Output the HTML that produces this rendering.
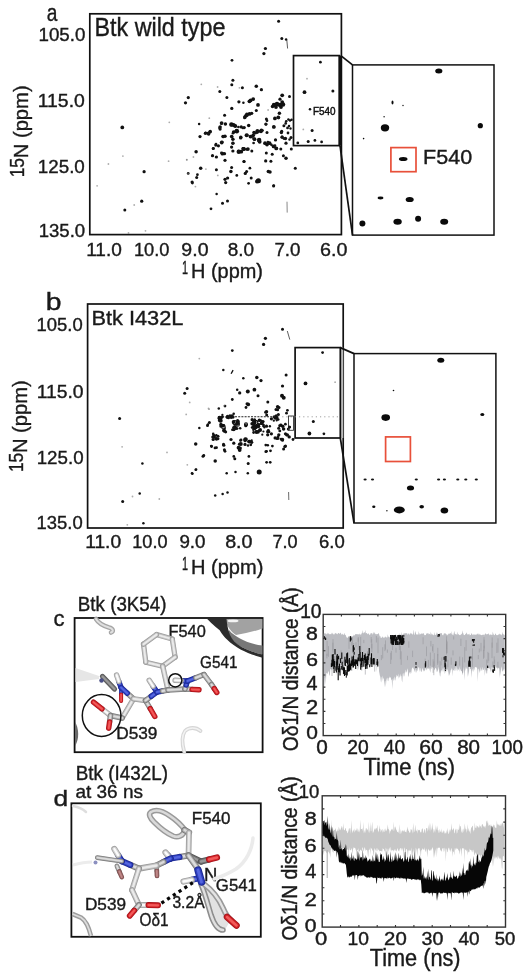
<!DOCTYPE html>
<html><head><meta charset="utf-8"><style>
html,body{margin:0;padding:0;background:#fff;}
body{width:532px;height:979px;overflow:hidden;}
svg{display:block;font-family:"Liberation Sans", sans-serif;will-change:transform;}
</style></head><body>
<svg width="532" height="979" viewBox="0 0 532 979">
<rect x="0" y="0" width="532" height="979" fill="#fff"/>
<text font-size="23.196" transform="translate(46.79,20.97) scale(0.8244,1)" fill="#1a1a1a" stroke="#1a1a1a" stroke-width="0.38">a</text>
<text font-size="18.375" transform="translate(38.49,41.02) scale(1.0201,1)" fill="#1a1a1a" stroke="#1a1a1a" stroke-width="0.38">105.0</text>
<text font-size="18.375" transform="translate(37.75,107.22) scale(1.0555,1)" fill="#1a1a1a" stroke="#1a1a1a" stroke-width="0.38">115.0</text>
<text font-size="18.657" transform="translate(37.79,172.51) scale(1.0069,1)" fill="#1a1a1a" stroke="#1a1a1a" stroke-width="0.38">125.0</text>
<text font-size="17.951" transform="translate(38.71,237.12) scale(1.0349,1)" fill="#1a1a1a" stroke="#1a1a1a" stroke-width="0.38">135.0</text>
<text font-size="25.308" transform="translate(94.48,36.05) scale(0.9217,1)" fill="#1a1a1a" stroke="#1a1a1a" stroke-width="0.38">Btk wild type</text>
<text font-size="18.657" transform="translate(86.17,256.01) scale(1.0216,1)" fill="#1a1a1a" stroke="#1a1a1a" stroke-width="0.38">11.0</text>
<text font-size="18.657" transform="translate(133.93,256.01) scale(0.9798,1)" fill="#1a1a1a" stroke="#1a1a1a" stroke-width="0.38">10.0</text>
<text font-size="18.657" transform="translate(181.37,256.01) scale(1.0473,1)" fill="#1a1a1a" stroke="#1a1a1a" stroke-width="0.38">9.0</text>
<text font-size="18.657" transform="translate(227.70,256.01) scale(1.0147,1)" fill="#1a1a1a" stroke="#1a1a1a" stroke-width="0.38">8.0</text>
<text font-size="18.657" transform="translate(274.41,256.01) scale(1.0060,1)" fill="#1a1a1a" stroke="#1a1a1a" stroke-width="0.38">7.0</text>
<text font-size="18.657" transform="translate(320.11,256.01) scale(1.0576,1)" fill="#1a1a1a" stroke="#1a1a1a" stroke-width="0.38">6.0</text>
<text font-size="19.200" transform="translate(181.98,274.30) scale(0.5660,1)" fill="#1a1a1a" stroke="#1a1a1a" stroke-width="0.38">1</text>
<text font-size="20.590" transform="translate(191.05,278.43) scale(0.9686,1)" fill="#1a1a1a" stroke="#1a1a1a" stroke-width="0.38">H (ppm)</text>
<g transform="rotate(-90)"><text font-size="19.785" transform="translate(-177.30,24.30) scale(0.8788,1)" fill="#1a1a1a" stroke="#1a1a1a" stroke-width="0.38">15</text></g>
<g transform="rotate(-90)"><text font-size="20.054" transform="translate(-158.27,28.34) scale(1.0074,1)" fill="#1a1a1a" stroke="#1a1a1a" stroke-width="0.38">N (ppm)</text></g>
<rect x="89.8" y="13.8" width="251.59999999999997" height="220.79999999999998" fill="none" stroke="#111" stroke-width="1.7"/>
<rect x="293.5" y="55.6" width="45.69999999999999" height="90.0" fill="none" stroke="#111" stroke-width="1.7"/>
<line x1="340.2" y1="55.6" x2="340.2" y2="145.6" stroke="#111" stroke-width="2.4" />
<rect x="352.5" y="64.9" width="141.5" height="170.2" fill="none" stroke="#111" stroke-width="1.5"/>
<line x1="340.8" y1="55.6" x2="352.5" y2="64.9" stroke="#111" stroke-width="1.7" />
<line x1="340.0" y1="145.6" x2="352.5" y2="235.1" stroke="#111" stroke-width="1.7" />
<text font-size="10.459" transform="translate(312.88,114.50) scale(0.9483,1)" fill="#111" stroke="#111" stroke-width="0.45">F540</text>
<text font-size="19.788" transform="translate(423.02,164.30) scale(1.0892,1)" fill="#1a1a1a" stroke="#1a1a1a" stroke-width="0.38">F540</text>
<rect x="390.9" y="147.6" width="25.1" height="24.1" fill="none" stroke="#e8503a" stroke-width="1.7"/>
<ellipse cx="281.8" cy="38.5" rx="1.5" ry="1.5" fill="#111"/>
<ellipse cx="286.1" cy="39.5" rx="1.25" ry="1.25" fill="#111"/>
<ellipse cx="278.6" cy="21.2" rx="1.5" ry="1.5" fill="#111"/>
<ellipse cx="265.4" cy="48.5" rx="1.62" ry="1.62" fill="#111"/>
<ellipse cx="263.9" cy="53.6" rx="1.62" ry="1.62" fill="#111"/>
<ellipse cx="232" cy="60.3" rx="1.38" ry="1.38" fill="#111"/>
<ellipse cx="232.9" cy="80.3" rx="1.5" ry="1.5" fill="#111"/>
<ellipse cx="231.8" cy="84.8" rx="1.5" ry="1.5" fill="#111"/>
<ellipse cx="201.3" cy="84.3" rx="0.9" ry="0.9" fill="#777" opacity="0.6"/>
<ellipse cx="217.6" cy="87" rx="0.9" ry="0.9" fill="#777" opacity="0.6"/>
<ellipse cx="219.8" cy="91.5" rx="1.5" ry="1.5" fill="#111"/>
<ellipse cx="242.4" cy="87.8" rx="1.5" ry="1.5" fill="#111"/>
<ellipse cx="239.4" cy="87.8" rx="0.9" ry="0.9" fill="#777" opacity="0.6"/>
<ellipse cx="256.3" cy="86.3" rx="1.75" ry="1.75" fill="#111"/>
<ellipse cx="261.4" cy="89.7" rx="1.62" ry="1.62" fill="#111"/>
<ellipse cx="188.3" cy="97.6" rx="1.62" ry="1.62" fill="#111"/>
<ellipse cx="185.5" cy="102.8" rx="1.62" ry="1.62" fill="#111"/>
<ellipse cx="226.9" cy="97.6" rx="1.5" ry="1.5" fill="#111"/>
<ellipse cx="238.9" cy="101.8" rx="1.62" ry="1.62" fill="#111"/>
<ellipse cx="243.4" cy="102.8" rx="1.25" ry="1.25" fill="#111"/>
<ellipse cx="249.4" cy="101.3" rx="1.88" ry="1.88" fill="#111"/>
<ellipse cx="253.2" cy="99.1" rx="1.88" ry="1.88" fill="#111"/>
<ellipse cx="250.6" cy="100.4" rx="1.88" ry="1.88" fill="#111"/>
<ellipse cx="282.2" cy="95.3" rx="1.88" ry="1.88" fill="#111"/>
<ellipse cx="289.5" cy="96.4" rx="1.5" ry="1.5" fill="#111"/>
<ellipse cx="280" cy="99.2" rx="1.62" ry="1.62" fill="#111"/>
<ellipse cx="282.2" cy="102.1" rx="1.88" ry="1.88" fill="#111"/>
<ellipse cx="274" cy="105" rx="2.25" ry="2.25" fill="#111"/>
<ellipse cx="277" cy="104" rx="2.25" ry="2.25" fill="#111"/>
<ellipse cx="280" cy="105" rx="2.25" ry="2.25" fill="#111"/>
<ellipse cx="283" cy="104.5" rx="2.25" ry="2.25" fill="#111"/>
<ellipse cx="276" cy="107" rx="1.88" ry="1.88" fill="#111"/>
<ellipse cx="281" cy="107" rx="1.88" ry="1.88" fill="#111"/>
<ellipse cx="272.5" cy="106.5" rx="1.75" ry="1.75" fill="#111"/>
<ellipse cx="258" cy="104.9" rx="1.88" ry="1.88" fill="#111"/>
<ellipse cx="231.8" cy="108.4" rx="1.62" ry="1.62" fill="#111"/>
<ellipse cx="256.3" cy="110.5" rx="1.5" ry="1.5" fill="#111"/>
<ellipse cx="268.1" cy="110" rx="0.9" ry="0.9" fill="#777" opacity="0.6"/>
<ellipse cx="224.6" cy="115.3" rx="1.5" ry="1.5" fill="#111"/>
<ellipse cx="246.9" cy="114.4" rx="1.88" ry="1.88" fill="#111"/>
<ellipse cx="244.9" cy="117.1" rx="1.88" ry="1.88" fill="#111"/>
<ellipse cx="251.7" cy="113.3" rx="1.62" ry="1.62" fill="#111"/>
<ellipse cx="249.5" cy="113.9" rx="1.88" ry="1.88" fill="#111"/>
<ellipse cx="246.1" cy="115.6" rx="1.88" ry="1.88" fill="#111"/>
<ellipse cx="279.4" cy="113.3" rx="1.75" ry="1.75" fill="#111"/>
<ellipse cx="274.9" cy="118.4" rx="1.88" ry="1.88" fill="#111"/>
<ellipse cx="278.3" cy="117.3" rx="1.88" ry="1.88" fill="#111"/>
<ellipse cx="266.4" cy="119" rx="1.5" ry="1.5" fill="#111"/>
<ellipse cx="265.9" cy="124.1" rx="1.62" ry="1.62" fill="#111"/>
<ellipse cx="288.4" cy="119.5" rx="1.25" ry="1.25" fill="#111"/>
<ellipse cx="286.2" cy="121.2" rx="1.25" ry="1.25" fill="#111"/>
<ellipse cx="209.3" cy="118.2" rx="0.9" ry="0.9" fill="#777" opacity="0.6"/>
<ellipse cx="199.1" cy="123.9" rx="1.25" ry="1.25" fill="#111"/>
<ellipse cx="221.6" cy="123.1" rx="1.88" ry="1.88" fill="#111"/>
<ellipse cx="225.4" cy="123.9" rx="1.75" ry="1.75" fill="#111"/>
<ellipse cx="220.1" cy="126.9" rx="1.75" ry="1.75" fill="#111"/>
<ellipse cx="220.1" cy="129.1" rx="1.62" ry="1.62" fill="#111"/>
<ellipse cx="231.4" cy="124.6" rx="2.25" ry="2.25" fill="#111"/>
<ellipse cx="235.2" cy="126.1" rx="2.0" ry="2.0" fill="#111"/>
<ellipse cx="233.6" cy="125" rx="2.0" ry="2.0" fill="#111"/>
<ellipse cx="241.2" cy="126.9" rx="1.62" ry="1.62" fill="#111"/>
<ellipse cx="244.2" cy="127.6" rx="1.62" ry="1.62" fill="#111"/>
<ellipse cx="248.7" cy="125.4" rx="1.75" ry="1.75" fill="#111"/>
<ellipse cx="273.8" cy="126.9" rx="1.88" ry="1.88" fill="#111"/>
<ellipse cx="283.9" cy="125.8" rx="1.5" ry="1.5" fill="#111"/>
<ellipse cx="288.4" cy="128" rx="0.9" ry="0.9" fill="#777" opacity="0.6"/>
<ellipse cx="210.3" cy="131.4" rx="1.62" ry="1.62" fill="#111"/>
<ellipse cx="205.8" cy="132.9" rx="1.5" ry="1.5" fill="#111"/>
<ellipse cx="233.6" cy="132.1" rx="1.75" ry="1.75" fill="#111"/>
<ellipse cx="236.7" cy="130.6" rx="1.88" ry="1.88" fill="#111"/>
<ellipse cx="257.4" cy="130.8" rx="1.88" ry="1.88" fill="#111"/>
<ellipse cx="261.4" cy="130.3" rx="1.88" ry="1.88" fill="#111"/>
<ellipse cx="254" cy="132.5" rx="1.75" ry="1.75" fill="#111"/>
<ellipse cx="281.7" cy="131.4" rx="1.62" ry="1.62" fill="#111"/>
<ellipse cx="209.9" cy="132" rx="1.75" ry="1.75" fill="#111"/>
<ellipse cx="208.6" cy="134" rx="1.75" ry="1.75" fill="#111"/>
<ellipse cx="205.3" cy="133.3" rx="1.5" ry="1.5" fill="#111"/>
<ellipse cx="200" cy="136.6" rx="1.62" ry="1.62" fill="#111"/>
<ellipse cx="223" cy="136.6" rx="1.75" ry="1.75" fill="#111"/>
<ellipse cx="225" cy="136.3" rx="1.75" ry="1.75" fill="#111"/>
<ellipse cx="231.6" cy="136.6" rx="1.75" ry="1.75" fill="#111"/>
<ellipse cx="232.9" cy="139.2" rx="1.75" ry="1.75" fill="#111"/>
<ellipse cx="236.8" cy="131.3" rx="2.25" ry="2.25" fill="#111"/>
<ellipse cx="240.8" cy="137.2" rx="1.75" ry="1.75" fill="#111"/>
<ellipse cx="221.7" cy="142.5" rx="1.88" ry="1.88" fill="#111"/>
<ellipse cx="232.9" cy="143.2" rx="1.75" ry="1.75" fill="#111"/>
<ellipse cx="215.8" cy="145.1" rx="1.62" ry="1.62" fill="#111"/>
<ellipse cx="218.4" cy="145.8" rx="1.62" ry="1.62" fill="#111"/>
<ellipse cx="213.2" cy="148.4" rx="1.5" ry="1.5" fill="#111"/>
<ellipse cx="231.6" cy="147.1" rx="1.62" ry="1.62" fill="#111"/>
<ellipse cx="196.1" cy="151.7" rx="1.75" ry="1.75" fill="#111"/>
<ellipse cx="222.4" cy="153.7" rx="1.88" ry="1.88" fill="#111"/>
<ellipse cx="224.5" cy="153.7" rx="1.62" ry="1.62" fill="#111"/>
<ellipse cx="232.9" cy="151" rx="1.62" ry="1.62" fill="#111"/>
<ellipse cx="238.8" cy="151.7" rx="2.25" ry="2.25" fill="#111"/>
<ellipse cx="243.4" cy="149.1" rx="2.0" ry="2.0" fill="#111"/>
<ellipse cx="193.4" cy="157" rx="0.9" ry="0.9" fill="#777" opacity="0.6"/>
<ellipse cx="212.5" cy="155.7" rx="1.62" ry="1.62" fill="#111"/>
<ellipse cx="216.4" cy="157" rx="1.62" ry="1.62" fill="#111"/>
<ellipse cx="225" cy="160.3" rx="1.62" ry="1.62" fill="#111"/>
<ellipse cx="186.8" cy="159.6" rx="0.9" ry="0.9" fill="#777" opacity="0.6"/>
<ellipse cx="200.7" cy="168.2" rx="1.75" ry="1.75" fill="#111"/>
<ellipse cx="205.9" cy="169.1" rx="0.9" ry="0.9" fill="#777" opacity="0.6"/>
<ellipse cx="216.4" cy="169.7" rx="1.5" ry="1.5" fill="#111"/>
<ellipse cx="231.6" cy="167.5" rx="1.5" ry="1.5" fill="#111"/>
<ellipse cx="230.9" cy="171.4" rx="1.75" ry="1.75" fill="#111"/>
<ellipse cx="188.2" cy="173.4" rx="1.38" ry="1.38" fill="#111"/>
<ellipse cx="197.4" cy="174.7" rx="1.38" ry="1.38" fill="#111"/>
<ellipse cx="196.7" cy="177.4" rx="1.5" ry="1.5" fill="#111"/>
<ellipse cx="217.8" cy="175.4" rx="0.9" ry="0.9" fill="#777" opacity="0.6"/>
<ellipse cx="236.8" cy="175.4" rx="1.38" ry="1.38" fill="#111"/>
<ellipse cx="225" cy="179.3" rx="1.62" ry="1.62" fill="#111"/>
<ellipse cx="227.6" cy="178" rx="1.62" ry="1.62" fill="#111"/>
<ellipse cx="225.7" cy="182.6" rx="1.62" ry="1.62" fill="#111"/>
<ellipse cx="192.1" cy="182" rx="1.62" ry="1.62" fill="#111"/>
<ellipse cx="195.4" cy="186.6" rx="0.9" ry="0.9" fill="#777" opacity="0.6"/>
<ellipse cx="244.1" cy="161.6" rx="1.5" ry="1.5" fill="#111"/>
<ellipse cx="246.6" cy="135.3" rx="2.0" ry="2.0" fill="#111"/>
<ellipse cx="250.5" cy="136.6" rx="1.88" ry="1.88" fill="#111"/>
<ellipse cx="253.2" cy="135.3" rx="1.88" ry="1.88" fill="#111"/>
<ellipse cx="254.5" cy="139.2" rx="1.88" ry="1.88" fill="#111"/>
<ellipse cx="257.1" cy="132" rx="1.88" ry="1.88" fill="#111"/>
<ellipse cx="261" cy="131.3" rx="1.88" ry="1.88" fill="#111"/>
<ellipse cx="259.1" cy="139.9" rx="2.25" ry="2.25" fill="#111"/>
<ellipse cx="259.7" cy="141.8" rx="1.88" ry="1.88" fill="#111"/>
<ellipse cx="267" cy="132.6" rx="1.5" ry="1.5" fill="#111"/>
<ellipse cx="240.7" cy="137.9" rx="1.62" ry="1.62" fill="#111"/>
<ellipse cx="265" cy="143.2" rx="1.88" ry="1.88" fill="#111"/>
<ellipse cx="267" cy="144.5" rx="1.88" ry="1.88" fill="#111"/>
<ellipse cx="269.6" cy="143.2" rx="1.88" ry="1.88" fill="#111"/>
<ellipse cx="275.5" cy="139.9" rx="1.62" ry="1.62" fill="#111"/>
<ellipse cx="273.6" cy="146.4" rx="1.88" ry="1.88" fill="#111"/>
<ellipse cx="276.2" cy="148.4" rx="1.88" ry="1.88" fill="#111"/>
<ellipse cx="281.4" cy="132.6" rx="1.62" ry="1.62" fill="#111"/>
<ellipse cx="282.1" cy="137.2" rx="1.75" ry="1.75" fill="#111"/>
<ellipse cx="285.4" cy="138.6" rx="1.75" ry="1.75" fill="#111"/>
<ellipse cx="286" cy="143.2" rx="1.62" ry="1.62" fill="#111"/>
<ellipse cx="280.8" cy="149.1" rx="1.5" ry="1.5" fill="#111"/>
<ellipse cx="291.3" cy="149.1" rx="1.5" ry="1.5" fill="#111"/>
<ellipse cx="243.9" cy="149.1" rx="2.0" ry="2.0" fill="#111"/>
<ellipse cx="247.9" cy="149.1" rx="1.88" ry="1.88" fill="#111"/>
<ellipse cx="241.3" cy="151.7" rx="1.88" ry="1.88" fill="#111"/>
<ellipse cx="251.8" cy="151" rx="1.5" ry="1.5" fill="#111"/>
<ellipse cx="266.3" cy="153" rx="1.5" ry="1.5" fill="#111"/>
<ellipse cx="272.2" cy="154.3" rx="1.5" ry="1.5" fill="#111"/>
<ellipse cx="283.4" cy="155.7" rx="1.5" ry="1.5" fill="#111"/>
<ellipse cx="286" cy="158.3" rx="1.75" ry="1.75" fill="#111"/>
<ellipse cx="243.9" cy="161.6" rx="1.5" ry="1.5" fill="#111"/>
<ellipse cx="265.7" cy="160.9" rx="1.62" ry="1.62" fill="#111"/>
<ellipse cx="270.9" cy="161.3" rx="1.5" ry="1.5" fill="#111"/>
<ellipse cx="249.9" cy="168.2" rx="1.38" ry="1.38" fill="#111"/>
<ellipse cx="295.3" cy="168.2" rx="1.5" ry="1.5" fill="#111"/>
<ellipse cx="245.3" cy="173.4" rx="1.62" ry="1.62" fill="#111"/>
<ellipse cx="246.6" cy="171.4" rx="1.5" ry="1.5" fill="#111"/>
<ellipse cx="268.3" cy="171.4" rx="1.75" ry="1.75" fill="#111"/>
<ellipse cx="270" cy="172.1" rx="1.75" ry="1.75" fill="#111"/>
<ellipse cx="251.2" cy="178" rx="1.5" ry="1.5" fill="#111"/>
<ellipse cx="258.4" cy="180.7" rx="2.5" ry="2.5" fill="#111"/>
<ellipse cx="257" cy="181.5" rx="2.0" ry="2.0" fill="#111"/>
<ellipse cx="248.6" cy="183.3" rx="1.38" ry="1.38" fill="#111"/>
<ellipse cx="273.6" cy="185.9" rx="1.5" ry="1.5" fill="#111"/>
<ellipse cx="192.4" cy="183.1" rx="1.38" ry="1.38" fill="#111"/>
<ellipse cx="216.6" cy="194" rx="1.25" ry="1.25" fill="#111"/>
<ellipse cx="222.5" cy="203.3" rx="1.5" ry="1.5" fill="#111"/>
<ellipse cx="227.5" cy="201.1" rx="1.5" ry="1.5" fill="#111"/>
<ellipse cx="211" cy="208.8" rx="1.38" ry="1.38" fill="#111"/>
<ellipse cx="273.7" cy="185.6" rx="1.38" ry="1.38" fill="#111"/>
<ellipse cx="257.5" cy="181.6" rx="1.5" ry="1.5" fill="#111"/>
<ellipse cx="122.3" cy="127.4" rx="1.88" ry="1.88" fill="#111"/>
<ellipse cx="169.3" cy="122.3" rx="0.9" ry="0.9" fill="#777" opacity="0.6"/>
<ellipse cx="122.9" cy="156.1" rx="0.9" ry="0.9" fill="#777" opacity="0.6"/>
<ellipse cx="108.4" cy="164" rx="0.9" ry="0.9" fill="#777" opacity="0.6"/>
<ellipse cx="168.6" cy="161.2" rx="0.9" ry="0.9" fill="#777" opacity="0.6"/>
<ellipse cx="144.1" cy="171.7" rx="1.62" ry="1.62" fill="#111"/>
<ellipse cx="97.1" cy="185.8" rx="0.9" ry="0.9" fill="#777" opacity="0.6"/>
<ellipse cx="141.7" cy="201.2" rx="1.62" ry="1.62" fill="#111"/>
<ellipse cx="134.2" cy="205" rx="0.9" ry="0.9" fill="#777" opacity="0.6"/>
<ellipse cx="124.8" cy="210.1" rx="1.5" ry="1.5" fill="#111"/>
<ellipse cx="128.5" cy="233" rx="0.9" ry="0.9" fill="#777" opacity="0.6"/>
<ellipse cx="145.5" cy="230.8" rx="0.9" ry="0.9" fill="#777" opacity="0.6"/>
<ellipse cx="188.1" cy="173.4" rx="0.9" ry="0.9" fill="#777" opacity="0.6"/>
<ellipse cx="186.8" cy="159.9" rx="0.9" ry="0.9" fill="#777" opacity="0.6"/>
<ellipse cx="290" cy="120.5" rx="1.25" ry="1.25" fill="#111"/>
<ellipse cx="291.6" cy="119.8" rx="1.19" ry="1.19" fill="#111"/>
<ellipse cx="289" cy="126" rx="1.25" ry="1.25" fill="#111"/>
<ellipse cx="290.5" cy="128.5" rx="1.19" ry="1.19" fill="#111"/>
<ellipse cx="288" cy="133" rx="1.38" ry="1.38" fill="#111"/>
<ellipse cx="291" cy="137.5" rx="1.5" ry="1.5" fill="#111"/>
<ellipse cx="289.5" cy="139.5" rx="1.25" ry="1.25" fill="#111"/>
<ellipse cx="320.4" cy="62.2" rx="1.38" ry="1.38" fill="#111"/>
<ellipse cx="307" cy="78.7" rx="0.9" ry="0.9" fill="#777" opacity="0.6"/>
<ellipse cx="304.5" cy="92.2" rx="1.88" ry="1.88" fill="#111"/>
<ellipse cx="332.9" cy="91" rx="1.5" ry="1.5" fill="#111"/>
<ellipse cx="310" cy="109.3" rx="1.25" ry="1.25" fill="#111"/>
<ellipse cx="303.3" cy="129.4" rx="0.9" ry="0.9" fill="#777" opacity="0.6"/>
<ellipse cx="312.1" cy="130.4" rx="1.5" ry="1.5" fill="#111"/>
<ellipse cx="297.8" cy="142.9" rx="1.38" ry="1.38" fill="#111"/>
<ellipse cx="308.2" cy="141.6" rx="1.5" ry="1.5" fill="#111"/>
<ellipse cx="314.9" cy="140.4" rx="1.38" ry="1.38" fill="#111"/>
<ellipse cx="321.6" cy="141.9" rx="1.38" ry="1.38" fill="#111"/>
<line x1="286.8" y1="40" x2="287.6" y2="48.5" stroke="#333" stroke-width="0.8" />
<line x1="287" y1="201.7" x2="287.2" y2="212.6" stroke="#555" stroke-width="0.7" />
<ellipse cx="438.8" cy="71" rx="3.6" ry="2.5" fill="#0a0a0a"/>
<ellipse cx="392.5" cy="102.5" rx="1.0" ry="2.0" fill="#0a0a0a"/>
<ellipse cx="403" cy="105.5" rx="0.7" ry="0.7" fill="#0a0a0a"/>
<ellipse cx="384.1" cy="116.7" rx="0.7" ry="0.7" fill="#0a0a0a"/>
<ellipse cx="385" cy="127.8" rx="4.2" ry="3.6" fill="#0a0a0a"/>
<ellipse cx="480.3" cy="125.7" rx="2.6" ry="2.6" fill="#0a0a0a"/>
<ellipse cx="363.6" cy="138.6" rx="0.8" ry="0.8" fill="#0a0a0a"/>
<ellipse cx="403.2" cy="159" rx="4.3" ry="2.0" fill="#0a0a0a"/>
<ellipse cx="380.5" cy="198" rx="3.0" ry="1.4" fill="#0a0a0a"/>
<ellipse cx="409.7" cy="199.5" rx="4.0" ry="2.6" fill="#0a0a0a"/>
<ellipse cx="362.4" cy="223.6" rx="3.0" ry="3.0" fill="#0a0a0a"/>
<ellipse cx="397.6" cy="221.8" rx="4.2" ry="3.0" fill="#0a0a0a"/>
<ellipse cx="418.1" cy="218.8" rx="3.0" ry="3.0" fill="#0a0a0a"/>
<ellipse cx="444.2" cy="221.8" rx="4.0" ry="3.0" fill="#0a0a0a"/>
<text font-size="22.993" transform="translate(45.87,310.47) scale(1.2274,1)" fill="#1a1a1a" stroke="#1a1a1a" stroke-width="0.38">b</text>
<text font-size="18.657" transform="translate(36.52,330.81) scale(0.9890,1)" fill="#1a1a1a" stroke="#1a1a1a" stroke-width="0.38">105.0</text>
<text font-size="18.657" transform="translate(36.65,398.41) scale(1.0372,1)" fill="#1a1a1a" stroke="#1a1a1a" stroke-width="0.38">115.0</text>
<text font-size="18.657" transform="translate(36.69,464.41) scale(1.0047,1)" fill="#1a1a1a" stroke="#1a1a1a" stroke-width="0.38">125.0</text>
<text font-size="18.516" transform="translate(36.52,528.91) scale(0.9965,1)" fill="#1a1a1a" stroke="#1a1a1a" stroke-width="0.38">135.0</text>
<text font-size="21.088" transform="translate(91.40,324.59) scale(1.0338,1)" fill="#1a1a1a" stroke="#1a1a1a" stroke-width="0.38">Btk I432L</text>
<text font-size="17.527" transform="translate(85.16,548.32) scale(1.0973,1)" fill="#1a1a1a" stroke="#1a1a1a" stroke-width="0.38">11.0</text>
<text font-size="17.527" transform="translate(132.24,548.32) scale(1.0337,1)" fill="#1a1a1a" stroke="#1a1a1a" stroke-width="0.38">10.0</text>
<text font-size="17.527" transform="translate(179.41,548.32) scale(1.0712,1)" fill="#1a1a1a" stroke="#1a1a1a" stroke-width="0.38">9.0</text>
<text font-size="17.527" transform="translate(225.16,548.32) scale(1.1237,1)" fill="#1a1a1a" stroke="#1a1a1a" stroke-width="0.38">8.0</text>
<text font-size="17.527" transform="translate(272.55,548.32) scale(1.0314,1)" fill="#1a1a1a" stroke="#1a1a1a" stroke-width="0.38">7.0</text>
<text font-size="17.527" transform="translate(318.97,548.32) scale(1.0557,1)" fill="#1a1a1a" stroke="#1a1a1a" stroke-width="0.38">6.0</text>
<text font-size="19.200" transform="translate(181.88,570.20) scale(0.5660,1)" fill="#1a1a1a" stroke="#1a1a1a" stroke-width="0.38">1</text>
<text font-size="20.590" transform="translate(190.95,574.33) scale(0.9742,1)" fill="#1a1a1a" stroke="#1a1a1a" stroke-width="0.38">H (ppm)</text>
<g transform="rotate(-90)"><text font-size="19.785" transform="translate(-472.10,22.80) scale(0.8788,1)" fill="#1a1a1a" stroke="#1a1a1a" stroke-width="0.38">15</text></g>
<g transform="rotate(-90)"><text font-size="20.054" transform="translate(-453.07,26.84) scale(1.0074,1)" fill="#1a1a1a" stroke="#1a1a1a" stroke-width="0.38">N (ppm)</text></g>
<rect x="87.6" y="304.0" width="255.6" height="224.0" fill="none" stroke="#111" stroke-width="1.7"/>
<rect x="340.3" y="347.6" width="3" height="90.4" fill="#bbb"/>
<rect x="295.1" y="347.6" width="45.19999999999999" height="90.39999999999998" fill="none" stroke="#111" stroke-width="1.7"/>
<rect x="354.0" y="353.6" width="141.89999999999998" height="169.39999999999998" fill="none" stroke="#111" stroke-width="1.5"/>
<line x1="340.3" y1="347.6" x2="354.0" y2="353.6" stroke="#111" stroke-width="1.7" />
<line x1="340.3" y1="438.0" x2="354.0" y2="523.0" stroke="#111" stroke-width="1.7" />
<rect x="385.6" y="436.9" width="24.8" height="24.6" fill="none" stroke="#e8503a" stroke-width="1.7"/>
<ellipse cx="282.5" cy="329.3" rx="1.5" ry="1.5" fill="#111"/>
<ellipse cx="265.4" cy="338.3" rx="1.62" ry="1.62" fill="#111"/>
<ellipse cx="263.6" cy="344.4" rx="1.62" ry="1.62" fill="#111"/>
<ellipse cx="232.3" cy="350.6" rx="1.38" ry="1.38" fill="#111"/>
<ellipse cx="199.3" cy="358.6" rx="0.9" ry="0.9" fill="#777" opacity="0.6"/>
<ellipse cx="223.3" cy="370.1" rx="1.25" ry="1.25" fill="#111"/>
<ellipse cx="243.3" cy="378.2" rx="1.25" ry="1.25" fill="#111"/>
<ellipse cx="256.8" cy="377.5" rx="1.75" ry="1.75" fill="#111"/>
<ellipse cx="261" cy="380.6" rx="1.62" ry="1.62" fill="#111"/>
<ellipse cx="187.1" cy="388.5" rx="1.5" ry="1.5" fill="#111"/>
<ellipse cx="184.7" cy="393.3" rx="1.5" ry="1.5" fill="#111"/>
<ellipse cx="237.2" cy="389.7" rx="1.25" ry="1.25" fill="#111"/>
<ellipse cx="239.7" cy="392.9" rx="1.62" ry="1.62" fill="#111"/>
<ellipse cx="247.8" cy="391.4" rx="2.0" ry="2.0" fill="#111"/>
<ellipse cx="254.4" cy="389.7" rx="1.88" ry="1.88" fill="#111"/>
<ellipse cx="258" cy="395.8" rx="1.5" ry="1.5" fill="#111"/>
<ellipse cx="232.3" cy="399.5" rx="1.38" ry="1.38" fill="#111"/>
<ellipse cx="248.2" cy="404.4" rx="1.88" ry="1.88" fill="#111"/>
<ellipse cx="267.8" cy="401.9" rx="1.5" ry="1.5" fill="#111"/>
<ellipse cx="225" cy="406.1" rx="1.38" ry="1.38" fill="#111"/>
<ellipse cx="282.5" cy="386" rx="1.62" ry="1.62" fill="#111"/>
<ellipse cx="282" cy="395.8" rx="2.0" ry="2.0" fill="#111"/>
<ellipse cx="283.7" cy="397.8" rx="2.0" ry="2.0" fill="#111"/>
<ellipse cx="286.1" cy="375" rx="1.5" ry="1.5" fill="#111"/>
<ellipse cx="277.6" cy="406.8" rx="1.75" ry="1.75" fill="#111"/>
<ellipse cx="266.6" cy="411.7" rx="1.62" ry="1.62" fill="#111"/>
<ellipse cx="209.1" cy="409.2" rx="0.9" ry="0.9" fill="#777" opacity="0.6"/>
<ellipse cx="220.1" cy="418.3" rx="2.25" ry="2.25" fill="#111"/>
<ellipse cx="233.6" cy="422" rx="1.88" ry="1.88" fill="#111"/>
<ellipse cx="237.2" cy="423.2" rx="1.88" ry="1.88" fill="#111"/>
<ellipse cx="234.8" cy="426.9" rx="1.88" ry="1.88" fill="#111"/>
<ellipse cx="222.6" cy="425.7" rx="1.88" ry="1.88" fill="#111"/>
<ellipse cx="223.8" cy="430.6" rx="1.75" ry="1.75" fill="#111"/>
<ellipse cx="254.4" cy="422" rx="2.25" ry="2.25" fill="#111"/>
<ellipse cx="255.6" cy="426.9" rx="2.25" ry="2.25" fill="#111"/>
<ellipse cx="258" cy="431.8" rx="1.88" ry="1.88" fill="#111"/>
<ellipse cx="261.7" cy="423.2" rx="1.88" ry="1.88" fill="#111"/>
<ellipse cx="245.8" cy="425.7" rx="1.62" ry="1.62" fill="#111"/>
<ellipse cx="207.9" cy="424.4" rx="1.25" ry="1.25" fill="#111"/>
<ellipse cx="199.3" cy="428.1" rx="1.25" ry="1.25" fill="#111"/>
<ellipse cx="267.8" cy="431.8" rx="1.75" ry="1.75" fill="#111"/>
<ellipse cx="275.1" cy="437.9" rx="1.62" ry="1.62" fill="#111"/>
<ellipse cx="214" cy="436.7" rx="1.88" ry="1.88" fill="#111"/>
<ellipse cx="216.5" cy="439.1" rx="1.75" ry="1.75" fill="#111"/>
<ellipse cx="240.9" cy="444" rx="1.88" ry="1.88" fill="#111"/>
<ellipse cx="245.8" cy="439.1" rx="1.88" ry="1.88" fill="#111"/>
<ellipse cx="249.5" cy="441.6" rx="1.88" ry="1.88" fill="#111"/>
<ellipse cx="195.7" cy="444" rx="1.75" ry="1.75" fill="#111"/>
<ellipse cx="223.8" cy="445.2" rx="1.62" ry="1.62" fill="#111"/>
<ellipse cx="284.9" cy="446.5" rx="1.62" ry="1.62" fill="#111"/>
<ellipse cx="282.5" cy="440.3" rx="1.5" ry="1.5" fill="#111"/>
<ellipse cx="267.8" cy="445.2" rx="1.25" ry="1.25" fill="#111"/>
<ellipse cx="211.6" cy="446.5" rx="1.38" ry="1.38" fill="#111"/>
<ellipse cx="216.5" cy="447.7" rx="1.38" ry="1.38" fill="#111"/>
<ellipse cx="225" cy="451.3" rx="1.38" ry="1.38" fill="#111"/>
<ellipse cx="238.5" cy="447.7" rx="1.88" ry="1.88" fill="#111"/>
<ellipse cx="239.7" cy="450.1" rx="1.88" ry="1.88" fill="#111"/>
<ellipse cx="203" cy="456.2" rx="1.5" ry="1.5" fill="#111"/>
<ellipse cx="215.2" cy="461.1" rx="1.75" ry="1.75" fill="#111"/>
<ellipse cx="234.8" cy="458.7" rx="1.5" ry="1.5" fill="#111"/>
<ellipse cx="248.2" cy="463.6" rx="1.5" ry="1.5" fill="#111"/>
<ellipse cx="266.6" cy="451.3" rx="1.38" ry="1.38" fill="#111"/>
<ellipse cx="266.6" cy="462.3" rx="1.38" ry="1.38" fill="#111"/>
<ellipse cx="270.2" cy="462.3" rx="1.38" ry="1.38" fill="#111"/>
<ellipse cx="195.7" cy="469.7" rx="1.25" ry="1.25" fill="#111"/>
<ellipse cx="192" cy="473.3" rx="1.25" ry="1.25" fill="#111"/>
<ellipse cx="226.7" cy="473.3" rx="1.25" ry="1.25" fill="#111"/>
<ellipse cx="235.5" cy="472.1" rx="1.25" ry="1.25" fill="#111"/>
<ellipse cx="259.2" cy="472.1" rx="2.5" ry="2.5" fill="#111"/>
<ellipse cx="247.8" cy="473.3" rx="1.25" ry="1.25" fill="#111"/>
<ellipse cx="215.2" cy="495.4" rx="1.25" ry="1.25" fill="#111"/>
<ellipse cx="222.6" cy="494.1" rx="1.25" ry="1.25" fill="#111"/>
<ellipse cx="227.5" cy="492.4" rx="1.25" ry="1.25" fill="#111"/>
<ellipse cx="247" cy="403.7" rx="1.5" ry="1.5" fill="#111"/>
<ellipse cx="277.6" cy="409.8" rx="1.5" ry="1.5" fill="#111"/>
<ellipse cx="246" cy="407.5" rx="1.38" ry="1.38" fill="#111"/>
<ellipse cx="276" cy="409.4" rx="1.5" ry="1.5" fill="#111"/>
<ellipse cx="279" cy="407.5" rx="1.5" ry="1.5" fill="#111"/>
<ellipse cx="287.4" cy="410.3" rx="1.38" ry="1.38" fill="#111"/>
<ellipse cx="286.5" cy="413.2" rx="1.38" ry="1.38" fill="#111"/>
<ellipse cx="265.8" cy="412.2" rx="1.62" ry="1.62" fill="#111"/>
<ellipse cx="266.7" cy="415" rx="1.5" ry="1.5" fill="#111"/>
<ellipse cx="219.7" cy="417.9" rx="2.25" ry="2.25" fill="#111"/>
<ellipse cx="220.7" cy="420.7" rx="2.0" ry="2.0" fill="#111"/>
<ellipse cx="230" cy="416" rx="1.75" ry="1.75" fill="#111"/>
<ellipse cx="232.9" cy="417" rx="1.75" ry="1.75" fill="#111"/>
<ellipse cx="235.7" cy="428.2" rx="1.75" ry="1.75" fill="#111"/>
<ellipse cx="224.4" cy="431" rx="1.75" ry="1.75" fill="#111"/>
<ellipse cx="258.3" cy="426.3" rx="2.0" ry="2.0" fill="#111"/>
<ellipse cx="254.5" cy="428.2" rx="2.0" ry="2.0" fill="#111"/>
<ellipse cx="256.4" cy="432" rx="1.88" ry="1.88" fill="#111"/>
<ellipse cx="260.2" cy="430" rx="1.88" ry="1.88" fill="#111"/>
<ellipse cx="263" cy="421.6" rx="1.62" ry="1.62" fill="#111"/>
<ellipse cx="271.4" cy="418.8" rx="1.62" ry="1.62" fill="#111"/>
<ellipse cx="274.2" cy="416.9" rx="1.62" ry="1.62" fill="#111"/>
<ellipse cx="267.7" cy="434.8" rx="1.62" ry="1.62" fill="#111"/>
<ellipse cx="271.4" cy="433.8" rx="1.62" ry="1.62" fill="#111"/>
<ellipse cx="277.1" cy="438.5" rx="1.62" ry="1.62" fill="#111"/>
<ellipse cx="281.8" cy="439.5" rx="1.62" ry="1.62" fill="#111"/>
<ellipse cx="282.7" cy="426.3" rx="1.75" ry="1.75" fill="#111"/>
<ellipse cx="283.6" cy="429.1" rx="1.75" ry="1.75" fill="#111"/>
<ellipse cx="288.3" cy="429.1" rx="1.5" ry="1.5" fill="#111"/>
<ellipse cx="285.5" cy="433.8" rx="1.62" ry="1.62" fill="#111"/>
<ellipse cx="287.4" cy="434.8" rx="1.62" ry="1.62" fill="#111"/>
<ellipse cx="293" cy="439.5" rx="1.38" ry="1.38" fill="#111"/>
<ellipse cx="209.4" cy="422.6" rx="1.5" ry="1.5" fill="#111"/>
<ellipse cx="207.5" cy="425.4" rx="1.5" ry="1.5" fill="#111"/>
<ellipse cx="214.1" cy="435.7" rx="1.62" ry="1.62" fill="#111"/>
<ellipse cx="216" cy="438.5" rx="1.62" ry="1.62" fill="#111"/>
<ellipse cx="213.2" cy="439.5" rx="1.62" ry="1.62" fill="#111"/>
<ellipse cx="231" cy="439.5" rx="1.62" ry="1.62" fill="#111"/>
<ellipse cx="233.8" cy="443.2" rx="1.62" ry="1.62" fill="#111"/>
<ellipse cx="239.5" cy="444.2" rx="1.62" ry="1.62" fill="#111"/>
<ellipse cx="245.1" cy="440.4" rx="1.75" ry="1.75" fill="#111"/>
<ellipse cx="248.9" cy="441.4" rx="1.75" ry="1.75" fill="#111"/>
<ellipse cx="251.7" cy="442.3" rx="1.62" ry="1.62" fill="#111"/>
<ellipse cx="240.4" cy="447.9" rx="1.5" ry="1.5" fill="#111"/>
<ellipse cx="239.5" cy="449.8" rx="1.5" ry="1.5" fill="#111"/>
<ellipse cx="223.5" cy="444.2" rx="1.5" ry="1.5" fill="#111"/>
<ellipse cx="224.4" cy="449.8" rx="1.5" ry="1.5" fill="#111"/>
<ellipse cx="211.3" cy="446.1" rx="1.38" ry="1.38" fill="#111"/>
<ellipse cx="215" cy="447.9" rx="1.38" ry="1.38" fill="#111"/>
<ellipse cx="265.8" cy="445.1" rx="1.38" ry="1.38" fill="#111"/>
<ellipse cx="272.4" cy="446.1" rx="1.38" ry="1.38" fill="#111"/>
<ellipse cx="265.8" cy="451.7" rx="1.38" ry="1.38" fill="#111"/>
<ellipse cx="270.5" cy="450.8" rx="1.38" ry="1.38" fill="#111"/>
<ellipse cx="285.5" cy="446.1" rx="1.5" ry="1.5" fill="#111"/>
<ellipse cx="283.6" cy="448.9" rx="1.5" ry="1.5" fill="#111"/>
<ellipse cx="203.8" cy="455.5" rx="1.38" ry="1.38" fill="#111"/>
<ellipse cx="233.8" cy="456.4" rx="1.38" ry="1.38" fill="#111"/>
<ellipse cx="248.9" cy="456.4" rx="1.38" ry="1.38" fill="#111"/>
<ellipse cx="218.8" cy="408.5" rx="1.25" ry="1.25" fill="#111"/>
<ellipse cx="208.5" cy="408.5" rx="0.9" ry="0.9" fill="#777" opacity="0.6"/>
<ellipse cx="224.4" cy="405.6" rx="0.9" ry="0.9" fill="#777" opacity="0.6"/>
<ellipse cx="189.7" cy="402.4" rx="0.9" ry="0.9" fill="#777" opacity="0.6"/>
<ellipse cx="186.2" cy="414.4" rx="0.9" ry="0.9" fill="#777" opacity="0.6"/>
<ellipse cx="119.6" cy="418.5" rx="1.5" ry="1.5" fill="#111"/>
<ellipse cx="122.1" cy="446.8" rx="0.9" ry="0.9" fill="#777" opacity="0.6"/>
<ellipse cx="167" cy="452.4" rx="0.9" ry="0.9" fill="#777" opacity="0.6"/>
<ellipse cx="142.4" cy="463.6" rx="1.25" ry="1.25" fill="#111"/>
<ellipse cx="187.3" cy="464.8" rx="0.9" ry="0.9" fill="#777" opacity="0.6"/>
<ellipse cx="196.1" cy="469.6" rx="1.25" ry="1.25" fill="#111"/>
<ellipse cx="192.4" cy="473.7" rx="1.25" ry="1.25" fill="#111"/>
<ellipse cx="139.7" cy="493.4" rx="1.25" ry="1.25" fill="#111"/>
<ellipse cx="132.5" cy="496.5" rx="0.9" ry="0.9" fill="#777" opacity="0.6"/>
<ellipse cx="122.7" cy="501.6" rx="1.5" ry="1.5" fill="#111"/>
<ellipse cx="159.3" cy="499" rx="0.9" ry="0.9" fill="#777" opacity="0.6"/>
<ellipse cx="127.3" cy="524.8" rx="0.9" ry="0.9" fill="#777" opacity="0.6"/>
<ellipse cx="143.4" cy="523.3" rx="1.25" ry="1.25" fill="#111"/>
<ellipse cx="322.6" cy="352.6" rx="1.38" ry="1.38" fill="#111"/>
<ellipse cx="305.5" cy="383.4" rx="1.88" ry="1.88" fill="#111"/>
<ellipse cx="335.1" cy="382.2" rx="0.9" ry="0.9" fill="#777" opacity="0.6"/>
<ellipse cx="313.3" cy="421.6" rx="1.5" ry="1.5" fill="#111"/>
<ellipse cx="309.4" cy="433.5" rx="1.88" ry="1.88" fill="#111"/>
<ellipse cx="323.9" cy="433.8" rx="1.38" ry="1.38" fill="#111"/>
<circle cx="234.8" cy="422.6" r="2.0" fill="none" stroke="#111" stroke-width="1.1"/>
<circle cx="237.6" cy="424.4" r="1.8" fill="none" stroke="#111" stroke-width="1.1"/>
<circle cx="223.5" cy="427.3" r="1.8" fill="none" stroke="#111" stroke-width="1.1"/>
<circle cx="255.5" cy="422.6" r="2.3" fill="none" stroke="#111" stroke-width="1.1"/>
<circle cx="246" cy="424.4" r="1.5" fill="none" stroke="#111" stroke-width="1.1"/>
<line x1="287.3" y1="331" x2="289.8" y2="339.6" stroke="#333" stroke-width="0.8" />
<line x1="233.1" y1="370.1" x2="231.1" y2="373.8" stroke="#111" stroke-width="1.3" />
<line x1="288.6" y1="492" x2="288.8" y2="500" stroke="#444" stroke-width="0.8" />
<line x1="219" y1="416.8" x2="278" y2="416.8" stroke="#222" stroke-width="1.1" stroke-dasharray="2 1.2"/>
<line x1="278" y1="416.8" x2="340" y2="416.8" stroke="#888" stroke-width="0.8" stroke-dasharray="1.2 3"/>
<rect x="288.5" y="416" width="5" height="14.3" fill="none" stroke="#333" stroke-width="0.9"/>
<ellipse cx="440.8" cy="360.2" rx="3.5" ry="2.5" fill="#0a0a0a"/>
<ellipse cx="393.5" cy="390.5" rx="0.8" ry="0.8" fill="#0a0a0a"/>
<ellipse cx="385.7" cy="417.6" rx="4.3" ry="3.3" fill="#0a0a0a"/>
<ellipse cx="482.3" cy="414.6" rx="2.0" ry="1.5" fill="#0a0a0a"/>
<ellipse cx="410.5" cy="488.1" rx="3.6" ry="2.5" fill="#0a0a0a"/>
<ellipse cx="373.8" cy="506.7" rx="1.6" ry="1.3" fill="#0a0a0a"/>
<ellipse cx="386.9" cy="510.8" rx="0.7" ry="0.7" fill="#0a0a0a"/>
<ellipse cx="399.3" cy="509.9" rx="5.5" ry="3.5" fill="#0a0a0a"/>
<ellipse cx="421.7" cy="506.7" rx="2.3" ry="1.8" fill="#0a0a0a"/>
<ellipse cx="444.4" cy="510.5" rx="3.8" ry="3.0" fill="#0a0a0a"/>
<ellipse cx="365.1" cy="479.5" rx="1.6" ry="1.0" fill="#111"/>
<ellipse cx="372.5" cy="479.5" rx="1.6" ry="1.0" fill="#111"/>
<ellipse cx="416.3" cy="479.5" rx="1.6" ry="1.0" fill="#111"/>
<ellipse cx="438.6" cy="479.5" rx="1.6" ry="1.0" fill="#111"/>
<ellipse cx="444.4" cy="479.5" rx="1.6" ry="1.0" fill="#111"/>
<ellipse cx="457.8" cy="479.5" rx="1.6" ry="1.0" fill="#111"/>
<ellipse cx="465.8" cy="479.5" rx="1.6" ry="1.0" fill="#111"/>
<ellipse cx="476.3" cy="479.5" rx="1.6" ry="1.0" fill="#111"/>
<text font-size="22.648" transform="translate(53.46,626.27) scale(0.9755,1)" fill="#1a1a1a" stroke="#1a1a1a" stroke-width="0.38">c</text>
<text font-size="19.782" transform="translate(77.85,611.20) scale(0.9486,1)" fill="#1a1a1a" stroke="#1a1a1a" stroke-width="0.38">Btk (3K54)</text>
<rect x="74.6" y="618.0" width="188.00000000000003" height="134.20000000000005" fill="none" stroke="#111" stroke-width="1.8"/>
<text font-size="16.678" transform="translate(168.45,637.13) scale(0.9810,1)" fill="#1a1a1a" stroke="#1a1a1a" stroke-width="0.38">F540</text>
<text font-size="17.385" transform="translate(200.04,668.43) scale(0.8797,1)" fill="#1a1a1a" stroke="#1a1a1a" stroke-width="0.38">G541</text>
<text font-size="15.830" transform="translate(116.17,739.34) scale(1.0917,1)" fill="#1a1a1a" stroke="#1a1a1a" stroke-width="0.38">D539</text>
<rect x="323.2" y="614.4" width="182.5" height="121.20000000000005" fill="none" stroke="#333" stroke-width="1.4"/>
<text font-size="19.505" transform="translate(300.16,618.10) scale(0.9868,1)" fill="#1a1a1a" stroke="#1a1a1a" stroke-width="0.42">10</text>
<text font-size="19.223" transform="translate(306.10,640.36) scale(1.1069,1)" fill="#1a1a1a" stroke="#1a1a1a" stroke-width="0.42">8</text>
<text font-size="19.223" transform="translate(305.92,665.51) scale(1.1248,1)" fill="#1a1a1a" stroke="#1a1a1a" stroke-width="0.42">6</text>
<text font-size="19.782" transform="translate(306.55,690.00) scale(1.0010,1)" fill="#1a1a1a" stroke="#1a1a1a" stroke-width="0.42">4</text>
<text font-size="19.498" transform="translate(305.90,714.40) scale(1.1272,1)" fill="#1a1a1a" stroke="#1a1a1a" stroke-width="0.42">2</text>
<text font-size="19.223" transform="translate(306.16,739.11) scale(1.0895,1)" fill="#1a1a1a" stroke="#1a1a1a" stroke-width="0.42">0</text>
<text font-size="19.505" transform="translate(316.37,754.40) scale(1.0629,1)" fill="#1a1a1a" stroke="#1a1a1a" stroke-width="0.42">0</text>
<text font-size="19.505" transform="translate(347.24,754.40) scale(0.9878,1)" fill="#1a1a1a" stroke="#1a1a1a" stroke-width="0.42">20</text>
<text font-size="19.505" transform="translate(383.77,754.40) scale(0.9863,1)" fill="#1a1a1a" stroke="#1a1a1a" stroke-width="0.42">40</text>
<text font-size="19.505" transform="translate(419.34,754.40) scale(1.0830,1)" fill="#1a1a1a" stroke="#1a1a1a" stroke-width="0.42">60</text>
<text font-size="19.505" transform="translate(457.13,754.40) scale(1.0552,1)" fill="#1a1a1a" stroke="#1a1a1a" stroke-width="0.42">80</text>
<text font-size="19.505" transform="translate(491.59,754.40) scale(0.9627,1)" fill="#1a1a1a" stroke="#1a1a1a" stroke-width="0.42">100</text>
<text font-size="24.291" transform="translate(363.51,774.50) scale(0.9017,1)" fill="#1a1a1a" stroke="#1a1a1a" stroke-width="0.42">Time (ns)</text>
<g transform="rotate(-90)"><text font-size="21.382" transform="translate(-751.32,297.50) scale(0.9022,1)" fill="#1a1a1a" stroke="#1a1a1a" stroke-width="0.42">Oδ1/N distance (Å)</text></g>
<text font-size="22.993" transform="translate(53.58,805.87) scale(1.1501,1)" fill="#1a1a1a" stroke="#1a1a1a" stroke-width="0.38">d</text>
<text font-size="19.927" transform="translate(75.64,780.10) scale(0.9476,1)" fill="#1a1a1a" stroke="#1a1a1a" stroke-width="0.38">Btk (I432L)</text>
<text font-size="18.925" transform="translate(75.39,797.90) scale(1.0052,1)" fill="#1a1a1a" stroke="#1a1a1a" stroke-width="0.38">at 36 ns</text>
<rect x="71.4" y="803.3" width="189.4" height="133.5" fill="none" stroke="#111" stroke-width="1.8"/>
<text font-size="15.830" transform="translate(191.80,823.64) scale(1.0716,1)" fill="#1a1a1a" stroke="#1a1a1a" stroke-width="0.38">F540</text>
<text font-size="17.891" transform="translate(203.88,881.20) scale(1.0327,1)" fill="#1a1a1a" stroke="#1a1a1a" stroke-width="0.38">N</text>
<text font-size="15.972" transform="translate(215.86,891.34) scale(1.0508,1)" fill="#1a1a1a" stroke="#1a1a1a" stroke-width="0.38">G541</text>
<text font-size="16.431" transform="translate(172.41,908.04) scale(0.9533,1)" fill="#1a1a1a" stroke="#1a1a1a" stroke-width="0.38">3.2Å</text>
<text font-size="16.678" transform="translate(84.88,910.33) scale(1.0335,1)" fill="#1a1a1a" stroke="#1a1a1a" stroke-width="0.38">D539</text>
<text font-size="17.823" transform="translate(139.57,926.12) scale(0.8627,1)" fill="#1a1a1a" stroke="#1a1a1a" stroke-width="0.38">Oδ1</text>
<rect x="322.2" y="795.8" width="183.3" height="131.30000000000007" fill="none" stroke="#333" stroke-width="1.4"/>
<text font-size="19.081" transform="translate(298.72,798.21) scale(0.9667,1)" fill="#1a1a1a" stroke="#1a1a1a" stroke-width="0.42">10</text>
<text font-size="18.940" transform="translate(304.69,825.11) scale(1.1346,1)" fill="#1a1a1a" stroke="#1a1a1a" stroke-width="0.42">8</text>
<text font-size="18.940" transform="translate(304.51,851.51) scale(1.1530,1)" fill="#1a1a1a" stroke="#1a1a1a" stroke-width="0.42">6</text>
<text font-size="19.491" transform="translate(305.15,878.40) scale(1.0261,1)" fill="#1a1a1a" stroke="#1a1a1a" stroke-width="0.42">4</text>
<text font-size="19.211" transform="translate(304.49,905.50) scale(1.1554,1)" fill="#1a1a1a" stroke="#1a1a1a" stroke-width="0.42">2</text>
<text font-size="18.940" transform="translate(304.75,932.41) scale(1.1168,1)" fill="#1a1a1a" stroke="#1a1a1a" stroke-width="0.42">0</text>
<text font-size="18.092" transform="translate(314.92,944.82) scale(1.2154,1)" fill="#1a1a1a" stroke="#1a1a1a" stroke-width="0.42">0</text>
<text font-size="18.092" transform="translate(347.56,944.82) scale(1.0639,1)" fill="#1a1a1a" stroke="#1a1a1a" stroke-width="0.42">10</text>
<text font-size="18.092" transform="translate(384.08,944.82) scale(1.1244,1)" fill="#1a1a1a" stroke="#1a1a1a" stroke-width="0.42">20</text>
<text font-size="18.092" transform="translate(421.56,944.82) scale(1.0841,1)" fill="#1a1a1a" stroke="#1a1a1a" stroke-width="0.42">30</text>
<text font-size="18.092" transform="translate(458.57,944.82) scale(1.0476,1)" fill="#1a1a1a" stroke="#1a1a1a" stroke-width="0.42">40</text>
<text font-size="18.092" transform="translate(494.76,944.82) scale(1.0225,1)" fill="#1a1a1a" stroke="#1a1a1a" stroke-width="0.42">50</text>
<text font-size="24.436" transform="translate(369.71,966.40) scale(0.8893,1)" fill="#1a1a1a" stroke="#1a1a1a" stroke-width="0.42">Time (ns)</text>
<g transform="rotate(-90)"><text font-size="21.382" transform="translate(-940.72,297.20) scale(0.9050,1)" fill="#1a1a1a" stroke="#1a1a1a" stroke-width="0.42">Oδ1/N distance (Å)</text></g>
<path d="M96,619 C99,624 104,626 109,627.5 C113,628.5 114,631 111,632.5" fill="none" stroke="#a6a6a6" stroke-width="4.6" stroke-linecap="round"/>
<path d="M96,619 C99,624 104,626 109,627.5 C113,628.5 114,631 111,632.5" fill="none" stroke="#e0e0e0" stroke-width="2" stroke-linecap="round"/>
<path d="M75.5,668 L99,676 L99,679 L75.5,682 Z" fill="#e6e6e6"/>
<path d="M75,722 C79,728 79.5,739 75,746 Z" fill="#6a6a6a"/>
<path d="M184.3,752 C182,744 181.5,736 185,731 C189,727 196,727 200.5,731" fill="none" stroke="#d6d6d6" stroke-width="3.8" stroke-linecap="round"/>
<path d="M184.3,752 C182,744 181.5,736 185,731 C189,727 196,727 200.5,731" fill="none" stroke="#f2f2f2" stroke-width="1.5" stroke-linecap="round"/>
<path d="M224,619 L262.5,619 L262.5,628.5 C254,631.5 245,633.5 236,635 C231,632 227,626 224,619 Z" fill="#a2a2a2"/>
<path d="M228,632 C231,639.5 236,643.5 241.5,647 C247,650 254,652.5 262.5,654.5 L262.5,645.5 C254,644.5 246,642 240,638.5 C236,636 232,634 229,630 Z" fill="#787878"/>
<path d="M207.2,619 C213,625 217,628 219.5,630 C222,634 224.5,637.5 227,639.5 C231,643.5 236,647 241,649.8 C247,652.8 254,655.5 262.5,657.8 L262.5,654.5 C254,652.5 247,650 241.5,647 C236,643.5 232,639.5 230,635 C228,630 227,624 226.5,619 Z" fill="#2c2c2c"/>
<ellipse cx="233" cy="620.9" rx="5.5" ry="1.4" fill="#f4f4f4"/>
<line x1="156.5" y1="634.6" x2="172.3" y2="639.1" stroke="#9c9c9c" stroke-width="5.2" stroke-linecap="round"/>
<line x1="156.5" y1="634.6" x2="172.3" y2="639.1" stroke="#c2c2c2" stroke-width="3.74" stroke-linecap="round"/>
<line x1="156.5" y1="634.6" x2="172.3" y2="639.1" stroke="#ebebeb" stroke-width="1.98" stroke-linecap="round"/>
<line x1="172.3" y1="639.1" x2="175.1" y2="657.1" stroke="#9c9c9c" stroke-width="5.2" stroke-linecap="round"/>
<line x1="172.3" y1="639.1" x2="175.1" y2="657.1" stroke="#c2c2c2" stroke-width="3.74" stroke-linecap="round"/>
<line x1="172.3" y1="639.1" x2="175.1" y2="657.1" stroke="#ebebeb" stroke-width="1.98" stroke-linecap="round"/>
<line x1="175.1" y1="657.1" x2="162.7" y2="666.2" stroke="#9c9c9c" stroke-width="5.2" stroke-linecap="round"/>
<line x1="175.1" y1="657.1" x2="162.7" y2="666.2" stroke="#c2c2c2" stroke-width="3.74" stroke-linecap="round"/>
<line x1="175.1" y1="657.1" x2="162.7" y2="666.2" stroke="#ebebeb" stroke-width="1.98" stroke-linecap="round"/>
<line x1="162.7" y1="666.2" x2="145.8" y2="662.2" stroke="#9c9c9c" stroke-width="5.2" stroke-linecap="round"/>
<line x1="162.7" y1="666.2" x2="145.8" y2="662.2" stroke="#c2c2c2" stroke-width="3.74" stroke-linecap="round"/>
<line x1="162.7" y1="666.2" x2="145.8" y2="662.2" stroke="#ebebeb" stroke-width="1.98" stroke-linecap="round"/>
<line x1="145.8" y1="662.2" x2="143.5" y2="644.2" stroke="#9c9c9c" stroke-width="5.2" stroke-linecap="round"/>
<line x1="145.8" y1="662.2" x2="143.5" y2="644.2" stroke="#c2c2c2" stroke-width="3.74" stroke-linecap="round"/>
<line x1="145.8" y1="662.2" x2="143.5" y2="644.2" stroke="#ebebeb" stroke-width="1.98" stroke-linecap="round"/>
<line x1="143.5" y1="644.2" x2="156.5" y2="634.6" stroke="#9c9c9c" stroke-width="5.2" stroke-linecap="round"/>
<line x1="143.5" y1="644.2" x2="156.5" y2="634.6" stroke="#c2c2c2" stroke-width="3.74" stroke-linecap="round"/>
<line x1="143.5" y1="644.2" x2="156.5" y2="634.6" stroke="#ebebeb" stroke-width="1.98" stroke-linecap="round"/>
<line x1="102.5" y1="676.5" x2="114.5" y2="689.0" stroke="#555555" stroke-width="5.2" stroke-linecap="round"/>
<line x1="102.5" y1="676.5" x2="114.5" y2="689.0" stroke="#707070" stroke-width="3.74" stroke-linecap="round"/>
<line x1="102.5" y1="676.5" x2="114.5" y2="689.0" stroke="#9a9a9a" stroke-width="1.98" stroke-linecap="round"/>
<circle cx="101.5" cy="680.5" r="2.2" fill="#4a4f86"/>
<line x1="121.1" y1="687.6" x2="121.1" y2="694.4" stroke="#1c2995" stroke-width="4.0" stroke-linecap="round"/>
<line x1="121.1" y1="687.6" x2="121.1" y2="694.4" stroke="#2f40bf" stroke-width="2.88" stroke-linecap="round"/>
<line x1="121.1" y1="687.6" x2="121.1" y2="694.4" stroke="#5566e0" stroke-width="1.52" stroke-linecap="round"/>
<line x1="121.1" y1="694.4" x2="121.1" y2="701.1" stroke="#a8121a" stroke-width="4.0" stroke-linecap="round"/>
<line x1="121.1" y1="694.4" x2="121.1" y2="701.1" stroke="#d42428" stroke-width="2.88" stroke-linecap="round"/>
<line x1="121.1" y1="694.4" x2="121.1" y2="701.1" stroke="#f25a5a" stroke-width="1.52" stroke-linecap="round"/>
<line x1="121.1" y1="687.6" x2="118.8" y2="681.4" stroke="#1c2995" stroke-width="5.4" stroke-linecap="round"/>
<line x1="121.1" y1="687.6" x2="118.8" y2="681.4" stroke="#2f40bf" stroke-width="3.89" stroke-linecap="round"/>
<line x1="121.1" y1="687.6" x2="118.8" y2="681.4" stroke="#5566e0" stroke-width="2.05" stroke-linecap="round"/>
<line x1="118.8" y1="681.4" x2="116.6" y2="675.1" stroke="#a0a0a0" stroke-width="5.4" stroke-linecap="round"/>
<line x1="118.8" y1="681.4" x2="116.6" y2="675.1" stroke="#d0d0d0" stroke-width="3.89" stroke-linecap="round"/>
<line x1="118.8" y1="681.4" x2="116.6" y2="675.1" stroke="#fbfbfb" stroke-width="2.05" stroke-linecap="round"/>
<line x1="133.5" y1="698.8" x2="127.3" y2="693.2" stroke="#787878" stroke-width="5.4" stroke-linecap="round"/>
<line x1="133.5" y1="698.8" x2="127.3" y2="693.2" stroke="#a9a9a9" stroke-width="3.89" stroke-linecap="round"/>
<line x1="133.5" y1="698.8" x2="127.3" y2="693.2" stroke="#dcdcdc" stroke-width="2.05" stroke-linecap="round"/>
<line x1="127.3" y1="693.2" x2="121.1" y2="687.6" stroke="#1c2995" stroke-width="5.4" stroke-linecap="round"/>
<line x1="127.3" y1="693.2" x2="121.1" y2="687.6" stroke="#2f40bf" stroke-width="3.89" stroke-linecap="round"/>
<line x1="127.3" y1="693.2" x2="121.1" y2="687.6" stroke="#5566e0" stroke-width="2.05" stroke-linecap="round"/>
<line x1="122.2" y1="718.0" x2="133.5" y2="698.8" stroke="#9c9c9c" stroke-width="5.4" stroke-linecap="round"/>
<line x1="122.2" y1="718.0" x2="133.5" y2="698.8" stroke="#c2c2c2" stroke-width="3.89" stroke-linecap="round"/>
<line x1="122.2" y1="718.0" x2="133.5" y2="698.8" stroke="#ebebeb" stroke-width="2.05" stroke-linecap="round"/>
<line x1="110.5" y1="715.5" x2="122.2" y2="718.0" stroke="#787878" stroke-width="5.4" stroke-linecap="round"/>
<line x1="110.5" y1="715.5" x2="122.2" y2="718.0" stroke="#a9a9a9" stroke-width="3.89" stroke-linecap="round"/>
<line x1="110.5" y1="715.5" x2="122.2" y2="718.0" stroke="#dcdcdc" stroke-width="2.05" stroke-linecap="round"/>
<line x1="110.5" y1="715.5" x2="102.0" y2="708.9" stroke="#a0a0a0" stroke-width="5.4" stroke-linecap="round"/>
<line x1="110.5" y1="715.5" x2="102.0" y2="708.9" stroke="#d0d0d0" stroke-width="3.89" stroke-linecap="round"/>
<line x1="110.5" y1="715.5" x2="102.0" y2="708.9" stroke="#fbfbfb" stroke-width="2.05" stroke-linecap="round"/>
<line x1="102.0" y1="708.9" x2="93.5" y2="702.2" stroke="#a8121a" stroke-width="5.4" stroke-linecap="round"/>
<line x1="102.0" y1="708.9" x2="93.5" y2="702.2" stroke="#d42428" stroke-width="3.89" stroke-linecap="round"/>
<line x1="102.0" y1="708.9" x2="93.5" y2="702.2" stroke="#f25a5a" stroke-width="2.05" stroke-linecap="round"/>
<line x1="110.5" y1="715.5" x2="109.6" y2="721.9" stroke="#787878" stroke-width="5.4" stroke-linecap="round"/>
<line x1="110.5" y1="715.5" x2="109.6" y2="721.9" stroke="#a9a9a9" stroke-width="3.89" stroke-linecap="round"/>
<line x1="110.5" y1="715.5" x2="109.6" y2="721.9" stroke="#dcdcdc" stroke-width="2.05" stroke-linecap="round"/>
<line x1="109.6" y1="721.9" x2="108.7" y2="728.2" stroke="#a8121a" stroke-width="5.4" stroke-linecap="round"/>
<line x1="109.6" y1="721.9" x2="108.7" y2="728.2" stroke="#d42428" stroke-width="3.89" stroke-linecap="round"/>
<line x1="109.6" y1="721.9" x2="108.7" y2="728.2" stroke="#f25a5a" stroke-width="2.05" stroke-linecap="round"/>
<line x1="133.5" y1="698.8" x2="145.5" y2="700.5" stroke="#9c9c9c" stroke-width="5.4" stroke-linecap="round"/>
<line x1="133.5" y1="698.8" x2="145.5" y2="700.5" stroke="#c2c2c2" stroke-width="3.89" stroke-linecap="round"/>
<line x1="133.5" y1="698.8" x2="145.5" y2="700.5" stroke="#ebebeb" stroke-width="2.05" stroke-linecap="round"/>
<line x1="145.5" y1="700.5" x2="150.2" y2="708.5" stroke="#787878" stroke-width="5.4" stroke-linecap="round"/>
<line x1="145.5" y1="700.5" x2="150.2" y2="708.5" stroke="#a9a9a9" stroke-width="3.89" stroke-linecap="round"/>
<line x1="145.5" y1="700.5" x2="150.2" y2="708.5" stroke="#dcdcdc" stroke-width="2.05" stroke-linecap="round"/>
<line x1="150.2" y1="708.5" x2="154.8" y2="716.5" stroke="#a8121a" stroke-width="5.4" stroke-linecap="round"/>
<line x1="150.2" y1="708.5" x2="154.8" y2="716.5" stroke="#d42428" stroke-width="3.89" stroke-linecap="round"/>
<line x1="150.2" y1="708.5" x2="154.8" y2="716.5" stroke="#f25a5a" stroke-width="2.05" stroke-linecap="round"/>
<line x1="145.5" y1="700.5" x2="151.2" y2="696.3" stroke="#787878" stroke-width="5.4" stroke-linecap="round"/>
<line x1="145.5" y1="700.5" x2="151.2" y2="696.3" stroke="#a9a9a9" stroke-width="3.89" stroke-linecap="round"/>
<line x1="145.5" y1="700.5" x2="151.2" y2="696.3" stroke="#dcdcdc" stroke-width="2.05" stroke-linecap="round"/>
<line x1="151.2" y1="696.3" x2="157.0" y2="692.1" stroke="#1c2995" stroke-width="5.4" stroke-linecap="round"/>
<line x1="151.2" y1="696.3" x2="157.0" y2="692.1" stroke="#2f40bf" stroke-width="3.89" stroke-linecap="round"/>
<line x1="151.2" y1="696.3" x2="157.0" y2="692.1" stroke="#5566e0" stroke-width="2.05" stroke-linecap="round"/>
<line x1="162.7" y1="666.2" x2="168.0" y2="690.0" stroke="#9c9c9c" stroke-width="5.4" stroke-linecap="round"/>
<line x1="162.7" y1="666.2" x2="168.0" y2="690.0" stroke="#c2c2c2" stroke-width="3.89" stroke-linecap="round"/>
<line x1="162.7" y1="666.2" x2="168.0" y2="690.0" stroke="#ebebeb" stroke-width="2.05" stroke-linecap="round"/>
<line x1="157.0" y1="692.1" x2="153.1" y2="686.2" stroke="#1c2995" stroke-width="5.4" stroke-linecap="round"/>
<line x1="157.0" y1="692.1" x2="153.1" y2="686.2" stroke="#2f40bf" stroke-width="3.89" stroke-linecap="round"/>
<line x1="157.0" y1="692.1" x2="153.1" y2="686.2" stroke="#5566e0" stroke-width="2.05" stroke-linecap="round"/>
<line x1="153.1" y1="686.2" x2="149.2" y2="680.3" stroke="#a0a0a0" stroke-width="5.4" stroke-linecap="round"/>
<line x1="153.1" y1="686.2" x2="149.2" y2="680.3" stroke="#d0d0d0" stroke-width="3.89" stroke-linecap="round"/>
<line x1="153.1" y1="686.2" x2="149.2" y2="680.3" stroke="#fbfbfb" stroke-width="2.05" stroke-linecap="round"/>
<line x1="157.0" y1="692.1" x2="162.5" y2="691.0" stroke="#1c2995" stroke-width="5.4" stroke-linecap="round"/>
<line x1="157.0" y1="692.1" x2="162.5" y2="691.0" stroke="#2f40bf" stroke-width="3.89" stroke-linecap="round"/>
<line x1="157.0" y1="692.1" x2="162.5" y2="691.0" stroke="#5566e0" stroke-width="2.05" stroke-linecap="round"/>
<line x1="162.5" y1="691.0" x2="168.0" y2="690.0" stroke="#787878" stroke-width="5.4" stroke-linecap="round"/>
<line x1="162.5" y1="691.0" x2="168.0" y2="690.0" stroke="#a9a9a9" stroke-width="3.89" stroke-linecap="round"/>
<line x1="162.5" y1="691.0" x2="168.0" y2="690.0" stroke="#dcdcdc" stroke-width="2.05" stroke-linecap="round"/>
<line x1="168.0" y1="690.0" x2="185.0" y2="689.0" stroke="#787878" stroke-width="5.4" stroke-linecap="round"/>
<line x1="168.0" y1="690.0" x2="185.0" y2="689.0" stroke="#a9a9a9" stroke-width="3.89" stroke-linecap="round"/>
<line x1="168.0" y1="690.0" x2="185.0" y2="689.0" stroke="#dcdcdc" stroke-width="2.05" stroke-linecap="round"/>
<line x1="185.0" y1="689.0" x2="192.0" y2="689.4" stroke="#787878" stroke-width="5.4" stroke-linecap="round"/>
<line x1="185.0" y1="689.0" x2="192.0" y2="689.4" stroke="#a9a9a9" stroke-width="3.89" stroke-linecap="round"/>
<line x1="185.0" y1="689.0" x2="192.0" y2="689.4" stroke="#dcdcdc" stroke-width="2.05" stroke-linecap="round"/>
<line x1="192.0" y1="689.4" x2="199.0" y2="689.8" stroke="#a8121a" stroke-width="5.4" stroke-linecap="round"/>
<line x1="192.0" y1="689.4" x2="199.0" y2="689.8" stroke="#d42428" stroke-width="3.89" stroke-linecap="round"/>
<line x1="192.0" y1="689.4" x2="199.0" y2="689.8" stroke="#f25a5a" stroke-width="2.05" stroke-linecap="round"/>
<line x1="185.0" y1="689.0" x2="186.2" y2="685.0" stroke="#787878" stroke-width="5.4" stroke-linecap="round"/>
<line x1="185.0" y1="689.0" x2="186.2" y2="685.0" stroke="#a9a9a9" stroke-width="3.89" stroke-linecap="round"/>
<line x1="185.0" y1="689.0" x2="186.2" y2="685.0" stroke="#dcdcdc" stroke-width="2.05" stroke-linecap="round"/>
<line x1="186.2" y1="685.0" x2="187.5" y2="681.0" stroke="#1c2995" stroke-width="5.4" stroke-linecap="round"/>
<line x1="186.2" y1="685.0" x2="187.5" y2="681.0" stroke="#2f40bf" stroke-width="3.89" stroke-linecap="round"/>
<line x1="186.2" y1="685.0" x2="187.5" y2="681.0" stroke="#5566e0" stroke-width="2.05" stroke-linecap="round"/>
<line x1="187.5" y1="681.0" x2="181.3" y2="680.6" stroke="#1c2995" stroke-width="5.4" stroke-linecap="round"/>
<line x1="187.5" y1="681.0" x2="181.3" y2="680.6" stroke="#2f40bf" stroke-width="3.89" stroke-linecap="round"/>
<line x1="187.5" y1="681.0" x2="181.3" y2="680.6" stroke="#5566e0" stroke-width="2.05" stroke-linecap="round"/>
<line x1="181.3" y1="680.6" x2="175.1" y2="680.3" stroke="#a0a0a0" stroke-width="5.4" stroke-linecap="round"/>
<line x1="181.3" y1="680.6" x2="175.1" y2="680.3" stroke="#d0d0d0" stroke-width="3.89" stroke-linecap="round"/>
<line x1="181.3" y1="680.6" x2="175.1" y2="680.3" stroke="#fbfbfb" stroke-width="2.05" stroke-linecap="round"/>
<line x1="187.5" y1="681.0" x2="195.8" y2="677.8" stroke="#1c2995" stroke-width="5.4" stroke-linecap="round"/>
<line x1="187.5" y1="681.0" x2="195.8" y2="677.8" stroke="#2f40bf" stroke-width="3.89" stroke-linecap="round"/>
<line x1="187.5" y1="681.0" x2="195.8" y2="677.8" stroke="#5566e0" stroke-width="2.05" stroke-linecap="round"/>
<line x1="195.8" y1="677.8" x2="204.0" y2="674.5" stroke="#787878" stroke-width="5.4" stroke-linecap="round"/>
<line x1="195.8" y1="677.8" x2="204.0" y2="674.5" stroke="#a9a9a9" stroke-width="3.89" stroke-linecap="round"/>
<line x1="195.8" y1="677.8" x2="204.0" y2="674.5" stroke="#dcdcdc" stroke-width="2.05" stroke-linecap="round"/>
<line x1="204.0" y1="674.5" x2="211.5" y2="684.5" stroke="#787878" stroke-width="5.4" stroke-linecap="round"/>
<line x1="204.0" y1="674.5" x2="211.5" y2="684.5" stroke="#a9a9a9" stroke-width="3.89" stroke-linecap="round"/>
<line x1="204.0" y1="674.5" x2="211.5" y2="684.5" stroke="#dcdcdc" stroke-width="2.05" stroke-linecap="round"/>
<line x1="211.5" y1="684.5" x2="214.2" y2="688.5" stroke="#787878" stroke-width="5.4" stroke-linecap="round"/>
<line x1="211.5" y1="684.5" x2="214.2" y2="688.5" stroke="#a9a9a9" stroke-width="3.89" stroke-linecap="round"/>
<line x1="211.5" y1="684.5" x2="214.2" y2="688.5" stroke="#dcdcdc" stroke-width="2.05" stroke-linecap="round"/>
<line x1="214.2" y1="688.5" x2="216.8" y2="692.5" stroke="#a8121a" stroke-width="5.4" stroke-linecap="round"/>
<line x1="214.2" y1="688.5" x2="216.8" y2="692.5" stroke="#d42428" stroke-width="3.89" stroke-linecap="round"/>
<line x1="214.2" y1="688.5" x2="216.8" y2="692.5" stroke="#f25a5a" stroke-width="2.05" stroke-linecap="round"/>
<circle cx="175.3" cy="680.3" r="6.6" fill="none" stroke="#111" stroke-width="1.5"/>
<ellipse cx="101.6" cy="715.5" rx="19.3" ry="21" fill="none" stroke="#111" stroke-width="1.5"/>
<path d="M73,806 C78,807 83,809 86,812" fill="none" stroke="#dedede" stroke-width="2.5" stroke-linecap="round"/>
<path d="M72.5,914 L81,917.5 C85,920 88.5,926 91,936" fill="none" stroke="#9d9d9d" stroke-width="4.6"/>
<path d="M72.5,914 L81,917.5 C85,920 88.5,926 91,936" fill="none" stroke="#dcdcdc" stroke-width="1.8"/>
<path d="M73,865 C80,863 86,862 92,862" fill="none" stroke="#ececec" stroke-width="3"/>
<path d="M253,838 C252,850 246,862 236,869 C228,874 220,877 214,879" fill="none" stroke="#ebebeb" stroke-width="3.5" stroke-linecap="round"/>
<path d="M151,812 C156,809 163,811 170,816 C176,820 182,826 185,830 C183,836 178,838 173,836 C166,833 159,827 154,822 C150,818 148,814 151,812 Z" fill="none" stroke="#9a9a9a" stroke-width="5.6" stroke-linejoin="round"/>
<path d="M151,812 C156,809 163,811 170,816 C176,820 182,826 185,830 C183,836 178,838 173,836 C166,833 159,827 154,822 C150,818 148,814 151,812 Z" fill="none" stroke="#d9d9d9" stroke-width="2.6" stroke-linejoin="round"/>
<line x1="184.5" y1="830.0" x2="189.0" y2="832.5" stroke="#787878" stroke-width="6.2" stroke-linecap="round"/>
<line x1="184.5" y1="830.0" x2="189.0" y2="832.5" stroke="#a9a9a9" stroke-width="4.46" stroke-linecap="round"/>
<line x1="184.5" y1="830.0" x2="189.0" y2="832.5" stroke="#dcdcdc" stroke-width="2.36" stroke-linecap="round"/>
<line x1="189.0" y1="832.5" x2="188.5" y2="855.5" stroke="#9c9c9c" stroke-width="5.7" stroke-linecap="round"/>
<line x1="189.0" y1="832.5" x2="188.5" y2="855.5" stroke="#c2c2c2" stroke-width="4.10" stroke-linecap="round"/>
<line x1="189.0" y1="832.5" x2="188.5" y2="855.5" stroke="#ebebeb" stroke-width="2.17" stroke-linecap="round"/>
<line x1="188.5" y1="855.5" x2="201.0" y2="861.5" stroke="#555555" stroke-width="6.2" stroke-linecap="round"/>
<line x1="188.5" y1="855.5" x2="201.0" y2="861.5" stroke="#707070" stroke-width="4.46" stroke-linecap="round"/>
<line x1="188.5" y1="855.5" x2="201.0" y2="861.5" stroke="#9a9a9a" stroke-width="2.36" stroke-linecap="round"/>
<line x1="201.0" y1="861.5" x2="209.0" y2="859.5" stroke="#555555" stroke-width="6.2" stroke-linecap="round"/>
<line x1="201.0" y1="861.5" x2="209.0" y2="859.5" stroke="#707070" stroke-width="4.46" stroke-linecap="round"/>
<line x1="201.0" y1="861.5" x2="209.0" y2="859.5" stroke="#9a9a9a" stroke-width="2.36" stroke-linecap="round"/>
<line x1="209.0" y1="859.5" x2="217.0" y2="857.5" stroke="#a8121a" stroke-width="6.2" stroke-linecap="round"/>
<line x1="209.0" y1="859.5" x2="217.0" y2="857.5" stroke="#d42428" stroke-width="4.46" stroke-linecap="round"/>
<line x1="209.0" y1="859.5" x2="217.0" y2="857.5" stroke="#f25a5a" stroke-width="2.36" stroke-linecap="round"/>
<line x1="188.5" y1="855.5" x2="179.5" y2="857.0" stroke="#787878" stroke-width="6.2" stroke-linecap="round"/>
<line x1="188.5" y1="855.5" x2="179.5" y2="857.0" stroke="#a9a9a9" stroke-width="4.46" stroke-linecap="round"/>
<line x1="188.5" y1="855.5" x2="179.5" y2="857.0" stroke="#dcdcdc" stroke-width="2.36" stroke-linecap="round"/>
<line x1="179.5" y1="857.0" x2="170.5" y2="858.5" stroke="#1c2995" stroke-width="6.2" stroke-linecap="round"/>
<line x1="179.5" y1="857.0" x2="170.5" y2="858.5" stroke="#2f40bf" stroke-width="4.46" stroke-linecap="round"/>
<line x1="179.5" y1="857.0" x2="170.5" y2="858.5" stroke="#5566e0" stroke-width="2.36" stroke-linecap="round"/>
<line x1="170.5" y1="858.5" x2="168.0" y2="855.5" stroke="#1c2995" stroke-width="6.2" stroke-linecap="round"/>
<line x1="170.5" y1="858.5" x2="168.0" y2="855.5" stroke="#2f40bf" stroke-width="4.46" stroke-linecap="round"/>
<line x1="170.5" y1="858.5" x2="168.0" y2="855.5" stroke="#5566e0" stroke-width="2.36" stroke-linecap="round"/>
<line x1="168.0" y1="855.5" x2="165.5" y2="852.5" stroke="#a0a0a0" stroke-width="6.2" stroke-linecap="round"/>
<line x1="168.0" y1="855.5" x2="165.5" y2="852.5" stroke="#d0d0d0" stroke-width="4.46" stroke-linecap="round"/>
<line x1="168.0" y1="855.5" x2="165.5" y2="852.5" stroke="#fbfbfb" stroke-width="2.36" stroke-linecap="round"/>
<line x1="170.5" y1="858.5" x2="163.5" y2="862.0" stroke="#1c2995" stroke-width="6.2" stroke-linecap="round"/>
<line x1="170.5" y1="858.5" x2="163.5" y2="862.0" stroke="#2f40bf" stroke-width="4.46" stroke-linecap="round"/>
<line x1="170.5" y1="858.5" x2="163.5" y2="862.0" stroke="#5566e0" stroke-width="2.36" stroke-linecap="round"/>
<line x1="163.5" y1="862.0" x2="156.5" y2="865.5" stroke="#787878" stroke-width="6.2" stroke-linecap="round"/>
<line x1="163.5" y1="862.0" x2="156.5" y2="865.5" stroke="#a9a9a9" stroke-width="4.46" stroke-linecap="round"/>
<line x1="163.5" y1="862.0" x2="156.5" y2="865.5" stroke="#dcdcdc" stroke-width="2.36" stroke-linecap="round"/>
<line x1="156.5" y1="865.5" x2="156.8" y2="870.8" stroke="#787878" stroke-width="4.7" stroke-linecap="round"/>
<line x1="156.5" y1="865.5" x2="156.8" y2="870.8" stroke="#a9a9a9" stroke-width="3.38" stroke-linecap="round"/>
<line x1="156.5" y1="865.5" x2="156.8" y2="870.8" stroke="#dcdcdc" stroke-width="1.79" stroke-linecap="round"/>
<line x1="156.8" y1="870.8" x2="157.0" y2="876.0" stroke="#7a5050" stroke-width="4.7" stroke-linecap="round"/>
<line x1="156.8" y1="870.8" x2="157.0" y2="876.0" stroke="#9a6464" stroke-width="3.38" stroke-linecap="round"/>
<line x1="156.8" y1="870.8" x2="157.0" y2="876.0" stroke="#c08888" stroke-width="1.79" stroke-linecap="round"/>
<line x1="156.5" y1="865.5" x2="138.9" y2="868.6" stroke="#9c9c9c" stroke-width="6.2" stroke-linecap="round"/>
<line x1="156.5" y1="865.5" x2="138.9" y2="868.6" stroke="#c2c2c2" stroke-width="4.46" stroke-linecap="round"/>
<line x1="156.5" y1="865.5" x2="138.9" y2="868.6" stroke="#ebebeb" stroke-width="2.36" stroke-linecap="round"/>
<line x1="138.9" y1="868.6" x2="130.3" y2="864.9" stroke="#787878" stroke-width="6.2" stroke-linecap="round"/>
<line x1="138.9" y1="868.6" x2="130.3" y2="864.9" stroke="#a9a9a9" stroke-width="4.46" stroke-linecap="round"/>
<line x1="138.9" y1="868.6" x2="130.3" y2="864.9" stroke="#dcdcdc" stroke-width="2.36" stroke-linecap="round"/>
<line x1="130.3" y1="864.9" x2="121.8" y2="861.2" stroke="#1c2995" stroke-width="6.2" stroke-linecap="round"/>
<line x1="130.3" y1="864.9" x2="121.8" y2="861.2" stroke="#2f40bf" stroke-width="4.46" stroke-linecap="round"/>
<line x1="130.3" y1="864.9" x2="121.8" y2="861.2" stroke="#5566e0" stroke-width="2.36" stroke-linecap="round"/>
<line x1="121.8" y1="861.2" x2="118.1" y2="855.1" stroke="#1c2995" stroke-width="6.2" stroke-linecap="round"/>
<line x1="121.8" y1="861.2" x2="118.1" y2="855.1" stroke="#2f40bf" stroke-width="4.46" stroke-linecap="round"/>
<line x1="121.8" y1="861.2" x2="118.1" y2="855.1" stroke="#5566e0" stroke-width="2.36" stroke-linecap="round"/>
<line x1="118.1" y1="855.1" x2="114.4" y2="849.0" stroke="#a0a0a0" stroke-width="6.2" stroke-linecap="round"/>
<line x1="118.1" y1="855.1" x2="114.4" y2="849.0" stroke="#d0d0d0" stroke-width="4.46" stroke-linecap="round"/>
<line x1="118.1" y1="855.1" x2="114.4" y2="849.0" stroke="#fbfbfb" stroke-width="2.36" stroke-linecap="round"/>
<line x1="121.8" y1="861.2" x2="97.3" y2="857.6" stroke="#787878" stroke-width="4.7" stroke-linecap="round"/>
<line x1="121.8" y1="861.2" x2="97.3" y2="857.6" stroke="#a9a9a9" stroke-width="3.38" stroke-linecap="round"/>
<line x1="121.8" y1="861.2" x2="97.3" y2="857.6" stroke="#dcdcdc" stroke-width="1.79" stroke-linecap="round"/>
<circle cx="95.5" cy="862.5" r="2" fill="#8c90c0"/>
<line x1="116.9" y1="866.0" x2="119.3" y2="871.5" stroke="#787878" stroke-width="4.7" stroke-linecap="round"/>
<line x1="116.9" y1="866.0" x2="119.3" y2="871.5" stroke="#a9a9a9" stroke-width="3.38" stroke-linecap="round"/>
<line x1="116.9" y1="866.0" x2="119.3" y2="871.5" stroke="#dcdcdc" stroke-width="1.79" stroke-linecap="round"/>
<line x1="119.3" y1="871.5" x2="121.8" y2="877.1" stroke="#7a5050" stroke-width="4.7" stroke-linecap="round"/>
<line x1="119.3" y1="871.5" x2="121.8" y2="877.1" stroke="#9a6464" stroke-width="3.38" stroke-linecap="round"/>
<line x1="119.3" y1="871.5" x2="121.8" y2="877.1" stroke="#c08888" stroke-width="1.79" stroke-linecap="round"/>
<line x1="138.9" y1="868.6" x2="132.0" y2="890.0" stroke="#9c9c9c" stroke-width="5.7" stroke-linecap="round"/>
<line x1="138.9" y1="868.6" x2="132.0" y2="890.0" stroke="#c2c2c2" stroke-width="4.10" stroke-linecap="round"/>
<line x1="138.9" y1="868.6" x2="132.0" y2="890.0" stroke="#ebebeb" stroke-width="2.17" stroke-linecap="round"/>
<line x1="132.0" y1="890.0" x2="139.0" y2="905.0" stroke="#9c9c9c" stroke-width="5.7" stroke-linecap="round"/>
<line x1="132.0" y1="890.0" x2="139.0" y2="905.0" stroke="#c2c2c2" stroke-width="4.10" stroke-linecap="round"/>
<line x1="132.0" y1="890.0" x2="139.0" y2="905.0" stroke="#ebebeb" stroke-width="2.17" stroke-linecap="round"/>
<line x1="139.0" y1="905.0" x2="148.5" y2="905.1" stroke="#a0a0a0" stroke-width="6.0" stroke-linecap="round"/>
<line x1="139.0" y1="905.0" x2="148.5" y2="905.1" stroke="#d0d0d0" stroke-width="4.32" stroke-linecap="round"/>
<line x1="139.0" y1="905.0" x2="148.5" y2="905.1" stroke="#fbfbfb" stroke-width="2.28" stroke-linecap="round"/>
<line x1="148.5" y1="905.1" x2="158.0" y2="905.3" stroke="#a8121a" stroke-width="6.0" stroke-linecap="round"/>
<line x1="148.5" y1="905.1" x2="158.0" y2="905.3" stroke="#d42428" stroke-width="4.32" stroke-linecap="round"/>
<line x1="148.5" y1="905.1" x2="158.0" y2="905.3" stroke="#f25a5a" stroke-width="2.28" stroke-linecap="round"/>
<line x1="139.0" y1="905.0" x2="134.3" y2="910.4" stroke="#787878" stroke-width="5.7" stroke-linecap="round"/>
<line x1="139.0" y1="905.0" x2="134.3" y2="910.4" stroke="#a9a9a9" stroke-width="4.10" stroke-linecap="round"/>
<line x1="139.0" y1="905.0" x2="134.3" y2="910.4" stroke="#dcdcdc" stroke-width="2.17" stroke-linecap="round"/>
<line x1="134.3" y1="910.4" x2="129.7" y2="915.8" stroke="#a8121a" stroke-width="5.7" stroke-linecap="round"/>
<line x1="134.3" y1="910.4" x2="129.7" y2="915.8" stroke="#d42428" stroke-width="4.10" stroke-linecap="round"/>
<line x1="134.3" y1="910.4" x2="129.7" y2="915.8" stroke="#f25a5a" stroke-width="2.17" stroke-linecap="round"/>
<line x1="188.5" y1="855.5" x2="198.0" y2="869.0" stroke="#787878" stroke-width="6.2" stroke-linecap="round"/>
<line x1="188.5" y1="855.5" x2="198.0" y2="869.0" stroke="#a9a9a9" stroke-width="4.46" stroke-linecap="round"/>
<line x1="188.5" y1="855.5" x2="198.0" y2="869.0" stroke="#dcdcdc" stroke-width="2.36" stroke-linecap="round"/>
<line x1="200.0" y1="878.0" x2="191.8" y2="879.8" stroke="#1c2995" stroke-width="6.2" stroke-linecap="round"/>
<line x1="200.0" y1="878.0" x2="191.8" y2="879.8" stroke="#2f40bf" stroke-width="4.46" stroke-linecap="round"/>
<line x1="200.0" y1="878.0" x2="191.8" y2="879.8" stroke="#5566e0" stroke-width="2.36" stroke-linecap="round"/>
<line x1="191.8" y1="879.8" x2="183.5" y2="881.5" stroke="#a0a0a0" stroke-width="6.2" stroke-linecap="round"/>
<line x1="191.8" y1="879.8" x2="183.5" y2="881.5" stroke="#d0d0d0" stroke-width="4.46" stroke-linecap="round"/>
<line x1="191.8" y1="879.8" x2="183.5" y2="881.5" stroke="#fbfbfb" stroke-width="2.36" stroke-linecap="round"/>
<path d="M203,884 C210,890 218,899 222,908 C225,915 227,919 230,921 L226,928 C221,930 217,926 214,918 C211,909 207,896 201,886 Z" fill="#e2e2e2"/>
<path d="M201,884 C205,893 208,905 211,915 C214,924 218,930 223,930" fill="none" stroke="#8e8e8e" stroke-width="5.6" stroke-linecap="round"/>
<path d="M201,884 C205,893 208,905 211,915 C214,924 218,930 223,930" fill="none" stroke="#e0e0e0" stroke-width="2.4" stroke-linecap="round"/>
<path d="M204,884 C212,890 219,899 223,908 C226,915 228,918 231,920" fill="none" stroke="#9a9a9a" stroke-width="5.6" stroke-linecap="round"/>
<path d="M204,884 C212,890 219,899 223,908 C226,915 228,918 231,920" fill="none" stroke="#e4e4e4" stroke-width="2.4" stroke-linecap="round"/>
<line x1="227.0" y1="917.0" x2="236.5" y2="925.5" stroke="#a8121a" stroke-width="6.5" stroke-linecap="round"/>
<line x1="227.0" y1="917.0" x2="236.5" y2="925.5" stroke="#d42428" stroke-width="4.68" stroke-linecap="round"/>
<line x1="227.0" y1="917.0" x2="236.5" y2="925.5" stroke="#f25a5a" stroke-width="2.47" stroke-linecap="round"/>
<line x1="198.0" y1="870.0" x2="201.5" y2="882.0" stroke="#1c2995" stroke-width="7.5" stroke-linecap="round"/>
<line x1="198.0" y1="870.0" x2="201.5" y2="882.0" stroke="#2f40bf" stroke-width="5.40" stroke-linecap="round"/>
<line x1="198.0" y1="870.0" x2="201.5" y2="882.0" stroke="#5566e0" stroke-width="2.85" stroke-linecap="round"/>
<rect x="161.20" y="900.70" width="3.2" height="3.2" fill="#050505" transform="rotate(-33 162.80 902.30)"/>
<rect x="166.94" y="896.94" width="3.2" height="3.2" fill="#050505" transform="rotate(-33 168.54 898.54)"/>
<rect x="172.68" y="893.18" width="3.2" height="3.2" fill="#050505" transform="rotate(-33 174.28 894.78)"/>
<rect x="178.42" y="889.42" width="3.2" height="3.2" fill="#050505" transform="rotate(-33 180.02 891.02)"/>
<rect x="184.16" y="885.66" width="3.2" height="3.2" fill="#050505" transform="rotate(-33 185.76 887.26)"/>
<rect x="189.90" y="881.90" width="3.2" height="3.2" fill="#050505" transform="rotate(-33 191.50 883.50)"/>
<polygon points="323.8,633.6 324.3,633.7 324.8,633.0 325.3,633.1 325.8,634.2 326.3,633.5 326.8,634.7 327.3,632.4 327.8,634.3 328.3,633.7 328.8,633.1 329.3,634.2 329.8,634.2 330.3,634.2 330.8,634.0 331.3,634.3 331.8,632.5 332.3,634.3 332.8,632.4 333.3,634.2 333.8,634.5 334.3,634.5 334.8,633.4 335.3,632.8 335.8,633.6 336.3,633.4 336.8,633.7 337.3,634.4 337.8,633.5 338.3,633.1 338.8,632.9 339.3,634.1 339.8,633.5 340.3,632.5 340.8,633.3 341.3,633.9 341.8,635.0 342.3,633.6 342.8,634.6 343.3,635.1 343.8,634.5 344.3,632.8 344.8,634.5 345.3,635.6 345.8,634.5 346.3,636.9 346.8,637.4 347.3,637.7 347.8,637.7 348.3,636.8 348.8,636.2 349.3,637.7 349.8,637.4 350.3,638.1 350.8,636.8 351.3,636.4 351.8,636.4 352.3,636.4 352.8,636.2 353.3,636.1 353.8,634.5 354.3,635.8 354.8,635.0 355.3,633.9 355.8,634.3 356.3,634.3 356.8,633.9 357.3,634.5 357.8,634.1 358.3,633.9 358.8,634.7 359.3,634.4 359.8,633.3 360.3,635.2 360.8,634.0 361.3,634.5 361.8,632.8 362.3,633.0 362.8,630.1 363.3,633.1 363.8,633.4 364.3,631.8 364.8,633.0 365.3,629.8 365.8,633.6 366.3,633.1 366.8,632.9 367.3,634.6 367.8,633.6 368.3,634.1 368.8,633.1 369.3,634.8 369.8,635.2 370.3,634.3 370.8,633.0 371.3,633.0 371.8,633.5 372.3,633.2 372.8,635.1 373.3,631.6 373.8,634.0 374.3,632.0 374.8,633.4 375.3,634.4 375.8,633.6 376.3,634.3 376.8,634.3 377.3,634.0 377.8,634.2 378.3,633.4 378.8,633.1 379.3,635.0 379.8,636.5 380.3,636.0 380.8,638.1 381.3,637.5 381.8,638.1 382.3,636.9 382.8,636.3 383.3,638.0 383.8,637.4 384.3,636.8 384.8,638.3 385.3,636.8 385.8,636.6 386.3,637.5 386.8,637.4 387.3,637.4 387.8,634.2 388.3,636.6 388.8,637.0 389.3,637.7 389.8,636.4 390.3,638.5 390.8,636.8 391.3,638.2 391.8,634.8 392.3,638.0 392.8,636.4 393.3,637.7 393.8,636.5 394.3,636.0 394.8,636.0 395.3,633.8 395.8,635.8 396.3,636.0 396.8,635.7 397.3,635.1 397.8,635.1 398.3,635.5 398.8,634.4 399.3,633.3 399.8,636.0 400.3,634.1 400.8,636.0 401.3,631.7 401.8,635.6 402.3,634.8 402.8,634.5 403.3,633.0 403.8,634.4 404.3,633.4 404.8,632.9 405.3,633.4 405.8,632.9 406.3,633.3 406.8,633.3 407.3,633.4 407.8,635.1 408.3,633.8 408.8,633.3 409.3,633.8 409.8,635.2 410.3,632.4 410.8,633.7 411.3,633.7 411.8,633.3 412.3,633.9 412.8,635.0 413.3,632.9 413.8,629.6 414.3,634.6 414.8,635.1 415.3,630.7 415.8,632.8 416.3,635.1 416.8,633.9 417.3,634.8 417.8,634.3 418.3,634.7 418.8,631.1 419.3,635.2 419.8,633.1 420.3,633.9 420.8,634.5 421.3,633.2 421.8,633.8 422.3,633.5 422.8,633.7 423.3,633.4 423.8,633.1 424.3,635.1 424.8,635.2 425.3,635.0 425.8,635.2 426.3,633.4 426.8,633.5 427.3,632.9 427.8,633.7 428.3,633.1 428.8,634.4 429.3,633.9 429.8,633.7 430.3,635.0 430.8,631.4 431.3,634.9 431.8,633.3 432.3,635.1 432.8,634.1 433.3,635.2 433.8,635.3 434.3,632.0 434.8,635.1 435.3,634.8 435.8,634.9 436.3,634.2 436.8,632.3 437.3,633.0 437.8,634.3 438.3,634.4 438.8,634.0 439.3,633.5 439.8,633.4 440.3,633.2 440.8,633.2 441.3,633.1 441.8,633.3 442.3,634.9 442.8,635.3 443.3,635.2 443.8,633.4 444.3,633.3 444.8,633.6 445.3,633.4 445.8,633.4 446.3,634.5 446.8,634.4 447.3,634.5 447.8,635.4 448.3,634.1 448.8,633.6 449.3,633.5 449.8,634.1 450.3,632.7 450.8,633.6 451.3,634.5 451.8,631.0 452.3,634.9 452.8,634.4 453.3,635.3 453.8,633.1 454.3,630.8 454.8,633.4 455.3,634.6 455.8,633.8 456.3,634.8 456.8,634.2 457.3,631.5 457.8,634.7 458.3,634.4 458.8,633.7 459.3,635.2 459.8,634.9 460.3,635.2 460.8,634.6 461.3,634.2 461.8,634.1 462.3,630.3 462.8,633.3 463.3,633.2 463.8,634.9 464.3,635.1 464.8,635.3 465.3,633.4 465.8,634.6 466.3,633.3 466.8,632.2 467.3,634.8 467.8,634.3 468.3,634.2 468.8,634.4 469.3,633.5 469.8,635.5 470.3,635.0 470.8,635.1 471.3,633.6 471.8,633.3 472.3,634.6 472.8,635.3 473.3,633.8 473.8,635.3 474.3,635.0 474.8,633.9 475.3,634.9 475.8,634.5 476.3,633.7 476.8,635.2 477.3,633.9 477.8,633.6 478.3,633.4 478.8,634.9 479.3,633.4 479.8,635.1 480.3,634.3 480.8,635.0 481.3,635.0 481.8,635.3 482.3,634.8 482.8,634.7 483.3,634.9 483.8,634.3 484.3,635.4 484.8,634.1 485.3,633.6 485.8,633.4 486.3,634.4 486.8,634.2 487.3,634.2 487.8,634.1 488.3,633.2 488.8,634.1 489.3,635.5 489.8,634.2 490.3,635.2 490.8,633.8 491.3,635.2 491.8,634.5 492.3,635.3 492.8,631.5 493.3,633.8 493.8,634.8 494.3,635.3 494.8,635.1 495.3,633.3 495.8,633.9 496.3,635.1 496.8,635.2 497.3,635.1 497.8,635.3 498.3,635.0 498.8,633.9 499.3,633.4 499.8,634.5 500.3,634.4 500.8,634.2 501.3,634.8 501.8,635.5 502.3,631.7 502.8,634.1 503.3,634.6 503.8,634.3 504.3,635.3 504.8,634.5 504.8,671.9 504.3,668.4 503.8,669.3 503.3,670.6 502.8,671.2 502.3,671.4 501.8,668.0 501.3,666.2 500.8,676.0 500.3,669.4 499.8,678.2 499.3,668.9 498.8,667.5 498.3,668.7 497.8,667.3 497.3,670.1 496.8,667.1 496.3,668.2 495.8,666.7 495.3,666.2 494.8,666.9 494.3,666.5 493.8,670.1 493.3,667.9 492.8,667.2 492.3,667.7 491.8,666.9 491.3,671.0 490.8,671.9 490.3,670.0 489.8,667.4 489.3,669.3 488.8,667.8 488.3,668.7 487.8,666.5 487.3,670.8 486.8,671.9 486.3,670.0 485.8,669.6 485.3,670.9 484.8,675.9 484.3,667.3 483.8,669.9 483.3,670.0 482.8,666.8 482.3,670.1 481.8,670.9 481.3,668.8 480.8,671.7 480.3,667.1 479.8,670.4 479.3,673.3 478.8,668.9 478.3,668.6 477.8,681.9 477.3,669.4 476.8,667.2 476.3,667.4 475.8,667.1 475.3,667.3 474.8,667.2 474.3,670.8 473.8,667.7 473.3,671.7 472.8,671.3 472.3,668.5 471.8,671.1 471.3,678.0 470.8,667.9 470.3,667.5 469.8,666.4 469.3,666.4 468.8,676.4 468.3,671.0 467.8,677.4 467.3,668.6 466.8,668.9 466.3,667.0 465.8,671.3 465.3,666.6 464.8,672.1 464.3,680.4 463.8,666.8 463.3,670.6 462.8,675.2 462.3,673.4 461.8,670.8 461.3,671.5 460.8,670.6 460.3,668.4 459.8,672.1 459.3,666.6 458.8,670.3 458.3,669.1 457.8,671.5 457.3,667.9 456.8,670.9 456.3,666.5 455.8,666.8 455.3,671.4 454.8,667.7 454.3,671.2 453.8,669.7 453.3,670.9 452.8,668.6 452.3,676.5 451.8,667.4 451.3,669.4 450.8,670.0 450.3,672.2 449.8,674.2 449.3,675.8 448.8,670.4 448.3,676.4 447.8,670.0 447.3,668.9 446.8,671.9 446.3,668.8 445.8,671.3 445.3,672.2 444.8,673.9 444.3,669.6 443.8,672.0 443.3,667.0 442.8,672.1 442.3,667.8 441.8,671.8 441.3,669.7 440.8,671.0 440.3,676.8 439.8,675.5 439.3,671.2 438.8,666.8 438.3,669.2 437.8,670.4 437.3,671.7 436.8,672.1 436.3,669.0 435.8,667.8 435.3,668.0 434.8,670.4 434.3,669.6 433.8,667.9 433.3,667.4 432.8,667.6 432.3,667.3 431.8,666.8 431.3,669.2 430.8,668.0 430.3,672.7 429.8,670.2 429.3,668.5 428.8,667.3 428.3,667.4 427.8,668.0 427.3,668.7 426.8,670.4 426.3,669.0 425.8,667.4 425.3,669.5 424.8,670.3 424.3,671.4 423.8,669.7 423.3,671.7 422.8,669.2 422.3,667.8 421.8,671.3 421.3,671.9 420.8,671.3 420.3,668.3 419.8,667.4 419.3,672.2 418.8,667.3 418.3,667.3 417.8,668.8 417.3,671.3 416.8,669.9 416.3,672.6 415.8,672.6 415.3,668.6 414.8,670.6 414.3,672.3 413.8,667.1 413.3,669.4 412.8,668.1 412.3,667.2 411.8,669.1 411.3,672.7 410.8,673.9 410.3,671.4 409.8,672.6 409.3,672.4 408.8,676.2 408.3,676.7 407.8,670.0 407.3,668.3 406.8,672.8 406.3,671.8 405.8,669.4 405.3,672.4 404.8,672.4 404.3,676.2 403.8,676.4 403.3,673.1 402.8,673.8 402.3,682.6 401.8,680.6 401.3,675.4 400.8,676.7 400.3,673.5 399.8,677.9 399.3,676.5 398.8,673.4 398.3,679.1 397.8,675.2 397.3,676.8 396.8,674.4 396.3,676.7 395.8,677.8 395.3,680.5 394.8,680.3 394.3,676.3 393.8,678.6 393.3,681.3 392.8,678.5 392.3,689.2 391.8,680.3 391.3,679.7 390.8,678.1 390.3,677.3 389.8,676.4 389.3,677.9 388.8,678.0 388.3,681.2 387.8,680.7 387.3,677.4 386.8,678.5 386.3,680.8 385.8,687.3 385.3,681.1 384.8,681.2 384.3,687.4 383.8,678.1 383.3,679.3 382.8,675.6 382.3,679.6 381.8,682.8 381.3,677.4 380.8,676.3 380.3,682.4 379.8,671.5 379.3,676.5 378.8,666.0 378.3,661.2 377.8,666.4 377.3,666.0 376.8,672.1 376.3,661.3 375.8,666.9 375.3,665.3 374.8,664.5 374.3,663.4 373.8,667.1 373.3,663.1 372.8,664.3 372.3,663.7 371.8,662.5 371.3,666.0 370.8,665.4 370.3,667.3 369.8,663.1 369.3,663.4 368.8,665.9 368.3,662.1 367.8,669.2 367.3,662.7 366.8,662.2 366.3,668.3 365.8,664.3 365.3,666.1 364.8,666.6 364.3,661.5 363.8,661.9 363.3,663.5 362.8,662.6 362.3,666.9 361.8,663.0 361.3,661.1 360.8,663.0 360.3,666.0 359.8,666.7 359.3,661.9 358.8,666.4 358.3,669.1 357.8,670.5 357.3,666.3 356.8,664.2 356.3,664.0 355.8,665.6 355.3,662.7 354.8,665.7 354.3,664.3 353.8,665.8 353.3,661.1 352.8,666.5 352.3,663.7 351.8,663.5 351.3,662.8 350.8,666.2 350.3,664.9 349.8,666.2 349.3,661.9 348.8,661.8 348.3,663.4 347.8,663.0 347.3,665.5 346.8,661.5 346.3,666.0 345.8,662.2 345.3,666.7 344.8,666.8 344.3,661.4 343.8,662.7 343.3,666.6 342.8,663.6 342.3,662.8 341.8,667.1 341.3,669.6 340.8,676.8 340.3,665.2 339.8,663.2 339.3,663.5 338.8,672.5 338.3,666.9 337.8,667.1 337.3,668.4 336.8,676.3 336.3,666.9 335.8,673.1 335.3,664.8 334.8,666.1 334.3,669.0 333.8,664.7 333.3,665.1 332.8,670.7 332.3,666.3 331.8,669.0 331.3,670.6 330.8,668.9 330.3,669.6 329.8,675.5 329.3,675.4 328.8,672.0 328.3,671.1 327.8,672.7 327.3,674.2 326.8,672.8 326.3,673.4 325.8,685.1 325.3,676.9 324.8,677.9 324.3,685.6 323.8,688.7" fill="#bcbdc2" />
<path d="M384.9,644.2V651.1M430.4,652.5V665.7M333.1,654.8V669.3M423.1,637.3V644.2M327.1,640.9V655.9M434.3,653.1V666.4M487.9,651.9V662.9M437.6,654.1V664.9M447.2,641.5V653.2M407.5,655.8V660.1M358.3,637.0V650.0M488.7,653.0V660.8M472.4,656.5V666.8M371.9,643.9V652.3M382.7,647.2V658.5M492.2,637.4V647.8M333.0,639.1V652.6M428.4,659.9V668.7M328.5,646.1V656.8M492.9,661.5V670.7M399.4,638.7V650.0M363.8,639.9V643.1M326.9,653.8V658.4M498.0,638.3V652.6M349.0,636.5V648.8M369.1,655.1V660.5M334.9,656.1V668.4M478.3,655.0V659.1M437.9,654.4V663.4M492.0,642.6V658.1M453.7,636.3V639.5M441.8,657.3V661.3M381.4,655.0V660.1M479.3,648.6V652.4M391.4,650.9V659.7M446.5,639.8V653.1M390.7,652.8V664.0M400.4,646.0V659.3M494.2,656.4V666.8M378.0,637.6V653.2M451.2,657.5V664.8M433.8,661.4V675.2M433.0,644.0V652.6M484.1,645.8V657.7M433.1,659.3V672.8M376.4,636.0V642.5M401.2,651.3V664.9M484.0,637.1V650.9M470.5,658.5V669.0M374.7,658.1V671.6M447.9,659.8V667.3M341.1,650.4V663.8M361.7,655.5V670.6M367.7,651.8V663.6M408.8,641.4V647.7M459.7,656.6V665.6M341.6,657.0V670.0M367.5,651.1V665.7M483.5,649.6V658.8M430.9,640.9V646.4M358.2,654.2V661.9M426.5,646.5V656.2M352.5,637.2V653.1M392.6,638.8V650.0M466.1,640.1V650.8M387.4,649.5V652.8M332.0,661.8V676.0M412.6,650.7V657.1M464.7,647.1V662.4M462.6,657.3V672.8M371.2,637.0V642.6M358.2,638.2V641.8M425.2,658.6V667.6M494.6,659.7V663.5M432.5,646.3V650.9M496.8,642.7V653.0M440.0,660.9V672.6M396.0,647.7V652.7M497.9,661.8V667.7M332.9,642.7V650.2M486.7,659.5V673.4M334.4,656.4V668.7M441.1,661.6V665.3M351.8,655.6V670.8M446.5,643.8V654.5M460.9,638.7V646.0M371.7,639.2V648.5M356.0,642.2V647.1M446.6,636.3V648.7M360.7,636.9V652.0M365.3,660.3V674.6M484.2,639.6V648.4M343.3,660.1V674.1M437.8,647.8V655.2M472.5,648.4V659.6M351.4,641.8V645.5M453.0,650.4V655.3M481.0,642.9V651.3M353.7,643.0V657.0M385.5,640.4V649.7" stroke="#949498" stroke-width="0.8" fill="none" opacity="0.7"/>
<path d="M331.4,663.2V667.1M331.9,659.7V663.6M332.3,654.5V666.6M332.8,658.7V664.3M333.2,654.1V665.8M333.7,659.3V668.9M334.1,665.8V673.1M334.6,660.9V667.0M335.0,648.9V654.6M335.9,666.6V670.8M336.4,661.4V672.6M336.8,655.5V662.2M337.3,654.0V665.3M337.7,656.8V669.8M338.2,667.7V680.2M338.6,655.8V659.3M339.1,665.9V672.1M339.5,663.5V672.6M340.0,668.6V675.4M340.4,658.3V663.0M341.3,666.0V669.6M341.8,652.4V659.1M342.2,661.8V665.2M342.7,665.3V670.2M343.6,667.6V674.0M344.0,666.8V674.2M344.5,667.6V676.1M344.9,656.8V665.6M345.4,659.6V665.9M345.8,669.9V675.0M346.7,653.2V662.9M347.2,665.2V675.6M347.6,652.4V664.8M348.1,665.8V671.8M348.5,664.7V671.5M349.0,659.4V665.7M349.4,658.0V671.3M349.9,666.1V669.5M350.3,664.0V669.3M350.8,662.8V670.2M351.2,660.4V663.9M351.7,661.6V666.1M352.1,656.5V664.0M352.6,659.3V665.1M353.0,659.6V667.5M353.5,655.4V667.6M353.9,659.3V664.7M354.8,661.8V666.1M355.3,659.3V665.8M355.7,665.2V669.1M356.2,660.2V664.6M356.6,659.4V663.7M357.1,659.9V663.3M357.5,659.7V665.9M358.0,657.6V660.7M358.9,654.0V661.3M359.8,646.1V654.7M360.2,652.1V661.2M360.7,663.6V669.7M361.1,658.4V664.9M361.6,657.8V661.9M362.0,658.8V667.3M362.5,652.0V660.9M363.8,658.1V666.7M364.3,655.1V659.9M365.2,653.4V663.2M365.6,664.0V669.1M366.1,656.4V665.7M367.0,659.0V668.8M367.4,656.0V661.3M367.9,661.0V664.8M368.3,653.8V660.5M369.2,648.0V655.5M369.7,664.3V667.3M371.0,657.6V664.3M371.5,653.2V663.0M371.9,658.8V666.9M373.3,658.3V664.5M373.7,657.9V662.9M374.2,658.2V664.5M376.9,661.6V664.9M377.3,659.0V664.5M377.8,661.6V666.4" stroke="#0a0a0a" stroke-width="1.1" fill="none"/>
<path d="M346.3,673.5V677.7M346.8,672.0V673.9M350.9,638.0V640.3M350.8,636.7V640.5M350.3,637.8V641.6M350.3,636.0V638.1M354.2,651.8V654.7M354.2,647.4V650.2M353.3,645.8V651.7M353.4,645.1V651.7M392.0,637.7V642.6M391.6,637.9V640.3M396.4,641.3V645.0M400.1,641.3V643.9M403.9,641.0V643.5M401.7,637.5V640.3M403.5,637.7V643.6M392.3,641.6V643.9M393.7,637.7V639.8M398.5,635.4V638.9M400.1,636.0V642.5M398.9,641.3V645.0M402.9,642.3V645.0M400.6,635.5V641.3M399.7,641.9V644.6M395.5,639.0V645.0M400.2,635.0V637.9M391.8,637.5V643.5M392.0,641.6V645.0M393.9,635.0V639.0M401.8,639.5V642.1M390.8,635.0V639.1M393.0,638.8V642.3M399.8,637.4V640.2M402.3,637.7V643.1M401.4,643.5V645.0M395.1,635.0V638.8M402.3,641.9V644.1M393.0,640.5V645.0M395.8,638.4V641.2M401.9,635.8V642.1M398.7,635.0V637.6M393.4,641.5V645.0M391.1,635.0V638.6M396.8,638.8V642.7M395.3,635.0V637.5M395.0,635.0V637.4M403.8,635.0V636.8M399.6,636.0V639.4M397.3,635.2V640.0M397.6,641.1V645.0M391.0,637.7V643.5M402.3,640.2V645.0M399.1,636.9V640.3M401.2,640.4V645.0M399.7,635.1V640.9M400.5,637.5V642.7M395.2,638.5V642.5M391.3,636.6V640.2M403.8,637.9V641.7M393.8,635.5V639.2M392.3,635.0V638.2M396.6,637.0V641.9M394.6,635.5V637.9M394.6,635.3V640.9M397.9,642.5V645.0M402.9,639.6V642.0M392.9,637.3V644.3M395.3,640.7V644.8M402.2,635.0V637.9M402.6,636.1V639.4M390.8,635.0V638.3M400.0,635.2V639.2M393.2,637.9V644.2M399.2,635.0V639.8M403.5,639.8V642.2M401.4,641.9V645.0M392.3,635.0V639.2M402.3,638.1V644.7M393.4,635.4V641.1M439.3,634.0V636.5M438.7,634.0V635.3M438.1,634.7V637.0M445.2,662.9V667.0M445.1,656.0V660.9M445.4,669.6V671.0M445.6,664.5V669.2M444.1,656.8V659.9M446.0,656.0V661.6M445.0,660.7V667.4M469.7,660.5V665.9M469.0,662.4V665.9M470.1,661.2V667.0M468.9,660.8V667.0M469.4,656.6V661.5M470.8,656.4V658.5M469.4,660.0V666.4M473.1,644.6V646.0M474.3,639.0V640.7M472.4,639.0V641.2M473.7,639.0V642.8M473.1,639.0V641.3M474.2,644.2V646.0M492.8,669.5V672.3M494.6,666.7V670.9M493.4,669.3V672.6M493.3,670.7V672.6M494.1,665.0V667.6M503.0,655.2V657.4M503.4,648.7V655.1M504.4,652.5V655.6M502.6,648.5V652.6M502.6,648.0V652.8M503.6,648.0V654.2M324.4,636.2V638.6M325.7,637.9V640.0M325.5,637.6V640.0M425.7,661.2V666.6M425.3,663.3V667.6M455.9,661.3V665.6M455.4,663.8V666.0M487.6,665.6V668.0M487.7,666.4V668.0M416.0,662.0V664.9M416.0,666.3V668.0" stroke="#0c0c0c" stroke-width="1.0" fill="none"/>
<polygon points="322.8,834.4 323.3,830.5 323.8,830.6 324.3,834.1 324.8,822.6 325.3,835.3 325.8,832.6 326.3,829.0 326.8,835.5 327.3,835.1 327.8,824.4 328.3,824.5 328.8,831.9 329.3,833.5 329.8,830.4 330.3,830.0 330.8,832.7 331.3,819.5 331.8,832.3 332.3,830.7 332.8,826.7 333.3,830.2 333.8,831.1 334.3,829.7 334.8,830.2 335.3,828.0 335.8,829.4 336.3,831.8 336.8,831.1 337.3,828.9 337.8,831.2 338.3,830.9 338.8,826.5 339.3,828.5 339.8,829.9 340.3,830.2 340.8,828.7 341.3,827.8 341.8,825.8 342.3,827.3 342.8,830.5 343.3,822.9 343.8,829.4 344.3,830.0 344.8,830.6 345.3,827.7 345.8,828.5 346.3,831.5 346.8,830.5 347.3,833.3 347.8,832.9 348.3,828.2 348.8,832.6 349.3,828.6 349.8,828.3 350.3,828.3 350.8,834.0 351.3,820.1 351.8,829.6 352.3,831.3 352.8,833.2 353.3,829.2 353.8,830.8 354.3,832.8 354.8,828.3 355.3,831.4 355.8,829.7 356.3,830.7 356.8,828.3 357.3,828.4 357.8,831.4 358.3,832.0 358.8,828.9 359.3,832.7 359.8,829.5 360.3,819.5 360.8,829.4 361.3,828.9 361.8,828.9 362.3,828.2 362.8,831.3 363.3,821.8 363.8,833.5 364.3,829.7 364.8,833.6 365.3,827.6 365.8,833.4 366.3,828.2 366.8,828.3 367.3,829.5 367.8,829.8 368.3,832.7 368.8,821.5 369.3,830.2 369.8,833.6 370.3,821.7 370.8,831.2 371.3,831.2 371.8,825.7 372.3,821.4 372.8,832.7 373.3,832.5 373.8,831.1 374.3,829.4 374.8,828.4 375.3,828.2 375.8,830.1 376.3,828.1 376.8,828.5 377.3,824.5 377.8,830.0 378.3,830.9 378.8,832.5 379.3,825.1 379.8,829.0 380.3,828.8 380.8,832.5 381.3,830.6 381.8,829.8 382.3,828.7 382.8,833.0 383.3,829.4 383.8,832.3 384.3,832.1 384.8,828.5 385.3,831.6 385.8,828.1 386.3,831.6 386.8,830.1 387.3,828.5 387.8,824.2 388.3,829.1 388.8,829.3 389.3,830.4 389.8,833.9 390.3,831.2 390.8,830.7 391.3,828.6 391.8,830.3 392.3,828.5 392.8,830.2 393.3,831.1 393.8,821.3 394.3,831.3 394.8,827.1 395.3,826.6 395.8,828.3 396.3,829.7 396.8,830.5 397.3,832.1 397.8,832.1 398.3,833.0 398.8,831.1 399.3,823.9 399.8,833.8 400.3,833.7 400.8,828.7 401.3,833.8 401.8,830.7 402.3,829.9 402.8,831.4 403.3,830.2 403.8,831.8 404.3,831.4 404.8,829.5 405.3,832.1 405.8,831.9 406.3,832.6 406.8,830.1 407.3,829.1 407.8,826.6 408.3,831.0 408.8,830.4 409.3,832.7 409.8,832.5 410.3,832.5 410.8,828.8 411.3,829.7 411.8,829.6 412.3,833.8 412.8,828.4 413.3,822.7 413.8,832.8 414.3,831.8 414.8,829.3 415.3,824.4 415.8,830.5 416.3,831.5 416.8,829.4 417.3,833.8 417.8,828.8 418.3,830.7 418.8,829.7 419.3,830.6 419.8,829.6 420.3,832.5 420.8,832.3 421.3,832.3 421.8,829.0 422.3,828.3 422.8,829.1 423.3,832.7 423.8,832.8 424.3,828.7 424.8,829.5 425.3,833.7 425.8,830.3 426.3,828.1 426.8,828.1 427.3,828.3 427.8,831.7 428.3,829.2 428.8,824.2 429.3,831.5 429.8,822.1 430.3,832.0 430.8,822.8 431.3,828.4 431.8,830.4 432.3,822.6 432.8,828.2 433.3,829.3 433.8,833.5 434.3,828.6 434.8,832.8 435.3,824.4 435.8,832.9 436.3,826.0 436.8,830.4 437.3,825.3 437.8,830.6 438.3,830.1 438.8,833.1 439.3,832.6 439.8,828.8 440.3,831.6 440.8,831.7 441.3,832.8 441.8,828.2 442.3,833.3 442.8,832.2 443.3,829.9 443.8,831.9 444.3,834.0 444.8,830.5 445.3,833.5 445.8,833.3 446.3,829.9 446.8,833.8 447.3,831.2 447.8,827.7 448.3,833.4 448.8,833.9 449.3,832.1 449.8,829.5 450.3,829.6 450.8,831.9 451.3,822.9 451.8,828.7 452.3,829.6 452.8,830.5 453.3,828.6 453.8,828.2 454.3,832.8 454.8,833.4 455.3,828.3 455.8,830.3 456.3,828.4 456.8,833.8 457.3,832.7 457.8,828.7 458.3,830.3 458.8,829.3 459.3,823.2 459.8,829.4 460.3,825.9 460.8,825.9 461.3,830.8 461.8,832.5 462.3,833.1 462.8,829.4 463.3,828.5 463.8,832.4 464.3,829.2 464.8,823.3 465.3,828.1 465.8,829.4 466.3,828.9 466.8,833.1 467.3,829.4 467.8,823.9 468.3,831.5 468.8,828.1 469.3,831.1 469.8,831.7 470.3,833.9 470.8,829.6 471.3,827.6 471.8,827.3 472.3,825.8 472.8,826.0 473.3,832.0 473.8,830.0 474.3,830.3 474.8,822.3 475.3,827.6 475.8,828.2 476.3,824.7 476.8,828.8 477.3,826.2 477.8,826.0 478.3,826.9 478.8,828.2 479.3,824.3 479.8,828.0 480.3,825.4 480.8,826.4 481.3,828.4 481.8,824.7 482.3,824.1 482.8,824.4 483.3,826.0 483.8,826.7 484.3,826.0 484.8,827.7 485.3,825.0 485.8,828.7 486.3,820.5 486.8,821.2 487.3,823.7 487.8,820.1 488.3,824.6 488.8,826.2 489.3,824.6 489.8,825.2 490.3,826.5 490.8,823.9 491.3,827.9 491.8,824.1 492.3,828.3 492.8,826.9 493.3,824.1 493.8,826.0 494.3,824.8 494.8,827.1 495.3,827.4 495.8,828.0 496.3,828.1 496.8,820.3 497.3,824.2 497.8,824.5 498.3,825.4 498.8,823.9 499.3,824.7 499.8,826.1 500.3,825.9 500.8,823.8 501.3,823.4 501.8,825.9 502.3,822.0 502.8,823.4 503.3,823.7 503.8,828.0 504.3,820.9 504.8,823.7 504.8,856.8 504.3,857.1 503.8,856.2 503.3,855.7 502.8,856.8 502.3,869.1 501.8,868.1 501.3,860.1 500.8,857.4 500.3,859.8 499.8,858.6 499.3,858.4 498.8,855.4 498.3,858.5 497.8,855.5 497.3,859.5 496.8,857.9 496.3,856.4 495.8,858.9 495.3,856.0 494.8,859.2 494.3,856.1 493.8,866.8 493.3,857.7 492.8,855.2 492.3,867.4 491.8,857.4 491.3,855.6 490.8,855.1 490.3,855.3 489.8,858.2 489.3,854.7 488.8,860.4 488.3,855.8 487.8,854.2 487.3,855.2 486.8,854.4 486.3,855.0 485.8,857.0 485.3,857.8 484.8,857.1 484.3,858.7 483.8,853.9 483.3,857.3 482.8,856.6 482.3,854.4 481.8,854.8 481.3,855.4 480.8,858.4 480.3,855.7 479.8,854.3 479.3,855.5 478.8,855.1 478.3,864.8 477.8,855.6 477.3,852.3 476.8,855.6 476.3,853.8 475.8,853.6 475.3,852.1 474.8,855.6 474.3,854.4 473.8,852.0 473.3,849.8 472.8,849.9 472.3,852.4 471.8,851.6 471.3,850.1 470.8,850.0 470.3,850.0 469.8,848.6 469.3,852.2 468.8,852.2 468.3,852.2 467.8,849.7 467.3,855.4 466.8,849.3 466.3,851.5 465.8,850.0 465.3,849.8 464.8,848.4 464.3,862.6 463.8,847.8 463.3,848.8 462.8,848.3 462.3,848.0 461.8,850.2 461.3,857.1 460.8,849.6 460.3,847.9 459.8,854.7 459.3,851.8 458.8,849.3 458.3,851.2 457.8,848.6 457.3,848.7 456.8,849.2 456.3,847.5 455.8,850.6 455.3,848.3 454.8,848.2 454.3,855.4 453.8,851.5 453.3,852.0 452.8,850.8 452.3,856.9 451.8,849.8 451.3,847.7 450.8,850.3 450.3,852.2 449.8,847.5 449.3,851.1 448.8,848.2 448.3,847.4 447.8,852.2 447.3,852.0 446.8,848.1 446.3,850.4 445.8,861.7 445.3,848.9 444.8,847.4 444.3,851.1 443.8,851.9 443.3,847.8 442.8,848.5 442.3,848.2 441.8,850.7 441.3,851.8 440.8,850.5 440.3,849.9 439.8,847.3 439.3,848.0 438.8,847.8 438.3,847.7 437.8,847.8 437.3,849.5 436.8,857.7 436.3,847.6 435.8,849.7 435.3,851.8 434.8,858.1 434.3,852.1 433.8,858.3 433.3,850.6 432.8,847.4 432.3,847.4 431.8,851.1 431.3,848.4 430.8,849.5 430.3,850.7 429.8,850.8 429.3,850.4 428.8,850.1 428.3,848.4 427.8,851.6 427.3,857.5 426.8,851.3 426.3,848.2 425.8,851.2 425.3,852.0 424.8,847.2 424.3,849.9 423.8,849.5 423.3,849.5 422.8,849.4 422.3,848.0 421.8,850.3 421.3,850.3 420.8,858.2 420.3,851.8 419.8,849.9 419.3,848.1 418.8,848.1 418.3,848.8 417.8,849.3 417.3,856.0 416.8,851.4 416.3,849.1 415.8,847.4 415.3,857.3 414.8,851.0 414.3,848.7 413.8,852.3 413.3,848.4 412.8,859.9 412.3,851.0 411.8,857.2 411.3,847.4 410.8,850.5 410.3,851.1 409.8,849.5 409.3,851.2 408.8,849.9 408.3,851.3 407.8,858.2 407.3,851.3 406.8,848.9 406.3,849.0 405.8,851.8 405.3,854.8 404.8,847.3 404.3,848.7 403.8,858.7 403.3,851.5 402.8,850.3 402.3,847.7 401.8,851.1 401.3,848.3 400.8,848.2 400.3,847.9 399.8,851.7 399.3,848.5 398.8,851.3 398.3,850.9 397.8,848.3 397.3,848.8 396.8,851.8 396.3,850.7 395.8,848.9 395.3,851.3 394.8,850.6 394.3,849.1 393.8,851.8 393.3,850.3 392.8,850.2 392.3,850.0 391.8,851.5 391.3,849.6 390.8,850.9 390.3,846.9 389.8,847.8 389.3,849.3 388.8,851.3 388.3,848.2 387.8,861.3 387.3,848.2 386.8,851.0 386.3,849.1 385.8,847.4 385.3,858.4 384.8,850.1 384.3,851.5 383.8,848.8 383.3,849.3 382.8,848.0 382.3,851.6 381.8,851.6 381.3,850.9 380.8,850.9 380.3,850.9 379.8,851.6 379.3,850.7 378.8,849.9 378.3,849.2 377.8,851.6 377.3,848.5 376.8,848.0 376.3,851.4 375.8,850.8 375.3,849.8 374.8,848.0 374.3,849.7 373.8,856.4 373.3,854.0 372.8,849.6 372.3,851.2 371.8,847.7 371.3,849.2 370.8,847.3 370.3,854.9 369.8,848.3 369.3,850.0 368.8,849.9 368.3,857.3 367.8,855.0 367.3,850.4 366.8,849.9 366.3,849.7 365.8,850.9 365.3,849.4 364.8,847.1 364.3,848.4 363.8,851.6 363.3,850.0 362.8,847.1 362.3,848.5 361.8,850.6 361.3,851.2 360.8,849.5 360.3,850.1 359.8,851.1 359.3,851.4 358.8,855.0 358.3,848.1 357.8,850.6 357.3,849.6 356.8,859.5 356.3,851.2 355.8,850.1 355.3,848.2 354.8,848.1 354.3,847.6 353.8,849.0 353.3,846.8 352.8,850.6 352.3,854.8 351.8,848.1 351.3,849.1 350.8,850.6 350.3,850.0 349.8,849.9 349.3,847.0 348.8,857.5 348.3,849.9 347.8,849.9 347.3,848.7 346.8,850.7 346.3,846.6 345.8,849.1 345.3,859.6 344.8,847.5 344.3,848.4 343.8,848.1 343.3,848.6 342.8,847.8 342.3,856.8 341.8,847.8 341.3,847.1 340.8,848.3 340.3,847.9 339.8,849.5 339.3,847.8 338.8,849.2 338.3,848.1 337.8,847.7 337.3,850.8 336.8,848.9 336.3,850.4 335.8,850.2 335.3,852.4 334.8,850.7 334.3,851.1 333.8,850.0 333.3,853.1 332.8,852.0 332.3,851.1 331.8,848.6 331.3,849.4 330.8,849.9 330.3,858.0 329.8,854.0 329.3,852.9 328.8,852.3 328.3,851.7 327.8,850.4 327.3,854.0 326.8,852.2 326.3,853.0 325.8,851.4 325.3,851.1 324.8,851.0 324.3,850.7 323.8,855.4 323.3,852.2 322.8,851.0" fill="#c7c7c7" />
<line x1="327.2" y1="850" x2="327.2" y2="878" stroke="#a8a8a8" stroke-width="1.0" />
<polygon points="322.8,823.9 323.3,821.4 323.8,820.9 324.3,820.1 324.8,825.2 325.3,821.8 325.8,823.1 326.3,821.5 326.8,825.9 327.3,823.6 327.8,815.8 328.3,827.2 328.8,829.4 329.3,829.7 329.8,822.8 330.3,832.1 330.8,833.5 331.3,824.9 331.8,834.0 332.3,837.0 332.8,826.4 333.3,835.3 333.8,837.3 334.3,836.9 334.8,839.8 335.3,838.7 335.8,838.8 336.3,839.7 336.8,832.0 337.3,839.3 337.8,840.0 338.3,841.2 338.8,848.1 339.3,844.6 339.8,849.3 340.3,849.1 340.8,839.5 341.3,849.8 341.8,847.5 342.3,850.7 342.8,849.3 343.3,848.9 343.8,849.0 344.3,847.3 344.8,848.5 345.3,843.6 345.8,851.0 346.3,844.6 346.8,855.4 347.3,857.4 347.8,854.7 348.3,858.6 348.8,853.2 349.3,857.6 349.8,858.9 350.3,856.8 350.8,861.1 351.3,858.3 351.8,851.8 352.3,858.4 352.8,858.7 353.3,855.1 353.8,860.3 354.3,861.0 354.8,857.3 355.3,858.9 355.8,858.3 356.3,858.9 356.8,860.3 357.3,858.4 357.8,850.7 358.3,853.2 358.8,858.0 359.3,861.0 359.8,852.9 360.3,858.5 360.8,857.0 361.3,856.9 361.8,857.5 362.3,861.1 362.8,848.7 363.3,856.7 363.8,860.0 364.3,856.9 364.8,858.8 365.3,858.8 365.8,855.0 366.3,857.8 366.8,857.8 367.3,860.3 367.8,862.0 368.3,859.5 368.8,861.3 369.3,859.2 369.8,858.5 370.3,861.9 370.8,858.5 371.3,860.4 371.8,861.2 372.3,861.6 372.8,855.1 373.3,858.7 373.8,861.8 374.3,860.3 374.8,861.6 375.3,850.9 375.8,862.1 376.3,852.1 376.8,858.2 377.3,859.9 377.8,853.4 378.3,858.6 378.8,861.9 379.3,861.8 379.8,862.1 380.3,852.3 380.8,855.1 381.3,854.6 381.8,853.8 382.3,859.0 382.8,860.4 383.3,855.4 383.8,859.5 384.3,858.3 384.8,862.0 385.3,860.6 385.8,859.4 386.3,856.8 386.8,850.0 387.3,860.8 387.8,855.5 388.3,853.9 388.8,856.8 389.3,861.5 389.8,861.7 390.3,850.9 390.8,858.3 391.3,859.4 391.8,862.2 392.3,861.0 392.8,855.7 393.3,861.3 393.8,860.3 394.3,859.7 394.8,855.6 395.3,851.9 395.8,859.8 396.3,853.9 396.8,860.7 397.3,857.5 397.8,861.8 398.3,858.0 398.8,852.4 399.3,858.3 399.8,858.5 400.3,854.4 400.8,858.7 401.3,859.3 401.8,859.6 402.3,858.1 402.8,858.2 403.3,860.7 403.8,861.9 404.3,859.9 404.8,852.6 405.3,851.6 405.8,859.3 406.3,859.0 406.8,861.0 407.3,856.6 407.8,857.8 408.3,862.2 408.8,861.6 409.3,855.8 409.8,859.3 410.3,858.8 410.8,853.4 411.3,861.2 411.8,858.9 412.3,859.1 412.8,854.3 413.3,859.1 413.8,858.7 414.3,860.8 414.8,848.4 415.3,860.7 415.8,859.3 416.3,859.9 416.8,860.9 417.3,859.7 417.8,858.6 418.3,861.6 418.8,859.7 419.3,858.3 419.8,855.3 420.3,858.1 420.8,859.4 421.3,858.6 421.8,875.8 422.3,875.0 422.8,872.7 423.3,866.8 423.8,878.9 424.3,875.4 424.8,878.7 425.3,877.1 425.8,879.2 426.3,876.0 426.8,880.0 427.3,870.8 427.8,878.0 428.3,880.2 428.8,868.6 429.3,877.5 429.8,876.5 430.3,879.1 430.8,880.0 431.3,870.7 431.8,870.1 432.3,880.2 432.8,880.8 433.3,871.6 433.8,871.0 434.3,879.1 434.8,874.6 435.3,879.4 435.8,878.1 436.3,880.5 436.8,874.0 437.3,881.6 437.8,878.2 438.3,879.5 438.8,881.4 439.3,875.2 439.8,878.3 440.3,881.8 440.8,879.6 441.3,878.5 441.8,880.0 442.3,880.6 442.8,878.3 443.3,881.0 443.8,878.3 444.3,871.4 444.8,876.2 445.3,880.0 445.8,881.1 446.3,877.8 446.8,877.3 447.3,873.0 447.8,877.9 448.3,879.4 448.8,880.4 449.3,878.5 449.8,876.9 450.3,877.4 450.8,871.4 451.3,878.2 451.8,877.1 452.3,878.5 452.8,879.3 453.3,870.5 453.8,876.6 454.3,875.6 454.8,876.9 455.3,877.0 455.8,876.5 456.3,875.6 456.8,875.8 457.3,878.7 457.8,878.6 458.3,877.5 458.8,875.7 459.3,876.1 459.8,870.9 460.3,877.5 460.8,872.2 461.3,875.9 461.8,875.3 462.3,867.4 462.8,875.4 463.3,862.7 463.8,873.0 464.3,873.0 464.8,875.2 465.3,874.8 465.8,871.7 466.3,869.7 466.8,870.9 467.3,870.8 467.8,869.0 468.3,871.5 468.8,862.9 469.3,860.8 469.8,863.4 470.3,866.1 470.8,858.1 471.3,868.7 471.8,864.4 472.3,866.8 472.8,865.2 473.3,855.7 473.8,863.6 474.3,865.4 474.8,863.1 475.3,865.8 475.8,862.2 476.3,863.4 476.8,856.0 477.3,854.9 477.8,853.3 478.3,861.4 478.8,862.0 479.3,859.6 479.8,862.7 480.3,861.2 480.8,861.4 481.3,858.5 481.8,857.2 482.3,854.1 482.8,856.9 483.3,856.1 483.8,854.8 484.3,847.4 484.8,852.9 485.3,849.4 485.8,850.4 486.3,848.4 486.8,843.8 487.3,842.3 487.8,842.6 488.3,840.6 488.8,836.9 489.3,838.2 489.8,836.7 490.3,834.5 490.8,833.3 491.3,834.2 491.8,825.8 492.3,827.1 492.8,838.1 493.3,837.8 493.3,850.6 492.8,853.6 492.3,856.3 491.8,858.7 491.3,860.6 490.8,861.8 490.3,862.7 489.8,863.8 489.3,865.5 488.8,866.5 488.3,868.5 487.8,871.0 487.3,873.1 486.8,874.9 486.3,877.1 485.8,884.4 485.3,880.4 484.8,880.9 484.3,886.2 483.8,882.4 483.3,889.1 482.8,885.7 482.3,885.2 481.8,886.0 481.3,885.8 480.8,885.9 480.3,887.0 479.8,886.9 479.3,887.9 478.8,887.4 478.3,887.6 477.8,887.3 477.3,888.5 476.8,888.6 476.3,887.9 475.8,889.5 475.3,888.5 474.8,889.8 474.3,889.0 473.8,888.8 473.3,889.8 472.8,889.4 472.3,889.5 471.8,889.4 471.3,890.2 470.8,891.1 470.3,891.2 469.8,890.3 469.3,894.7 468.8,892.1 468.3,891.3 467.8,897.1 467.3,891.9 466.8,892.6 466.3,892.4 465.8,893.1 465.3,892.6 464.8,892.8 464.3,892.4 463.8,892.5 463.3,900.0 462.8,892.7 462.3,892.7 461.8,892.2 461.3,892.5 460.8,893.0 460.3,892.2 459.8,893.6 459.3,892.9 458.8,893.6 458.3,893.5 457.8,893.0 457.3,892.8 456.8,892.3 456.3,893.3 455.8,892.4 455.3,892.9 454.8,892.3 454.3,893.6 453.8,893.1 453.3,893.0 452.8,892.6 452.3,892.5 451.8,892.3 451.3,900.7 450.8,893.1 450.3,893.6 449.8,892.9 449.3,893.3 448.8,893.5 448.3,892.4 447.8,893.5 447.3,900.1 446.8,892.6 446.3,893.4 445.8,893.0 445.3,892.8 444.8,892.8 444.3,893.0 443.8,892.5 443.3,892.6 442.8,893.7 442.3,892.9 441.8,893.2 441.3,893.4 440.8,893.5 440.3,893.6 439.8,892.5 439.3,892.7 438.8,892.5 438.3,893.5 437.8,901.0 437.3,893.4 436.8,900.9 436.3,892.8 435.8,892.9 435.3,893.2 434.8,893.2 434.3,892.7 433.8,893.2 433.3,892.5 432.8,893.3 432.3,896.9 431.8,892.8 431.3,892.8 430.8,892.7 430.3,893.1 429.8,893.7 429.3,893.2 428.8,893.6 428.3,892.5 427.8,892.7 427.3,892.3 426.8,892.3 426.3,892.6 425.8,893.1 425.3,892.6 424.8,893.0 424.3,893.5 423.8,892.6 423.3,893.6 422.8,892.4 422.3,892.7 421.8,893.1 421.3,884.5 420.8,880.2 420.3,879.8 419.8,879.6 419.3,880.6 418.8,879.4 418.3,879.6 417.8,879.2 417.3,879.6 416.8,880.3 416.3,879.4 415.8,879.0 415.3,880.3 414.8,879.3 414.3,879.6 413.8,879.0 413.3,879.1 412.8,879.6 412.3,879.1 411.8,879.9 411.3,879.5 410.8,879.3 410.3,878.7 409.8,878.8 409.3,879.0 408.8,879.0 408.3,878.5 407.8,878.0 407.3,879.1 406.8,879.3 406.3,882.9 405.8,878.9 405.3,878.2 404.8,879.2 404.3,877.8 403.8,878.9 403.3,878.3 402.8,878.3 402.3,878.3 401.8,878.5 401.3,877.8 400.8,877.4 400.3,878.7 399.8,878.3 399.3,878.4 398.8,878.2 398.3,877.4 397.8,878.3 397.3,877.6 396.8,877.9 396.3,877.3 395.8,878.0 395.3,878.4 394.8,877.6 394.3,877.6 393.8,881.2 393.3,877.5 392.8,877.4 392.3,878.1 391.8,878.2 391.3,878.3 390.8,878.4 390.3,878.3 389.8,878.0 389.3,877.4 388.8,878.5 388.3,878.1 387.8,877.2 387.3,878.7 386.8,878.0 386.3,878.8 385.8,878.2 385.3,878.1 384.8,878.3 384.3,877.7 383.8,882.1 383.3,878.8 382.8,877.5 382.3,877.8 381.8,877.5 381.3,878.7 380.8,878.4 380.3,877.9 379.8,878.4 379.3,877.5 378.8,877.9 378.3,877.9 377.8,877.3 377.3,878.2 376.8,883.7 376.3,882.9 375.8,877.8 375.3,878.1 374.8,877.5 374.3,878.1 373.8,878.3 373.3,877.8 372.8,877.7 372.3,877.4 371.8,876.8 371.3,877.3 370.8,877.8 370.3,876.6 369.8,877.8 369.3,877.6 368.8,877.7 368.3,876.8 367.8,877.8 367.3,877.5 366.8,877.5 366.3,877.5 365.8,876.2 365.3,877.0 364.8,876.6 364.3,875.8 363.8,875.2 363.3,875.3 362.8,875.4 362.3,875.6 361.8,875.2 361.3,876.0 360.8,876.4 360.3,875.0 359.8,875.5 359.3,875.6 358.8,875.9 358.3,875.9 357.8,879.9 357.3,876.0 356.8,874.9 356.3,875.0 355.8,875.3 355.3,875.2 354.8,880.4 354.3,875.2 353.8,875.2 353.3,875.7 352.8,874.9 352.3,875.9 351.8,876.3 351.3,877.0 350.8,876.8 350.3,876.4 349.8,877.7 349.3,877.0 348.8,876.3 348.3,877.2 347.8,877.4 347.3,876.9 346.8,873.7 346.3,868.6 345.8,864.3 345.3,864.4 344.8,863.3 344.3,863.3 343.8,863.4 343.3,863.4 342.8,862.5 342.3,863.7 341.8,862.0 341.3,863.2 340.8,863.0 340.3,861.8 339.8,861.7 339.3,862.8 338.8,860.8 338.3,855.4 337.8,852.4 337.3,852.1 336.8,857.8 336.3,850.9 335.8,851.1 335.3,850.3 334.8,851.1 334.3,850.7 333.8,850.2 333.3,849.4 332.8,849.4 332.3,848.4 331.8,847.7 331.3,847.4 330.8,845.8 330.3,845.3 329.8,845.1 329.3,843.9 328.8,842.7 328.3,841.7 327.8,839.2 327.3,838.5 326.8,837.6 326.3,838.1 325.8,838.0 325.3,837.6 324.8,836.5 324.3,836.5 323.8,836.1 323.3,836.3 322.8,836.1" fill="#060606" />
<ellipse cx="247.3" cy="115.4" rx="1.35" ry="1.35" fill="#151515"/>
<ellipse cx="244.6" cy="118" rx="1.35" ry="1.35" fill="#151515"/>
<ellipse cx="221.4" cy="123.4" rx="1.35" ry="1.35" fill="#151515"/>
<ellipse cx="219.6" cy="127.9" rx="1.35" ry="1.35" fill="#151515"/>
<ellipse cx="231.3" cy="125.2" rx="1.35" ry="1.35" fill="#151515"/>
<ellipse cx="235.7" cy="126.1" rx="1.35" ry="1.35" fill="#151515"/>
<ellipse cx="238.4" cy="127" rx="1.35" ry="1.35" fill="#151515"/>
<ellipse cx="235.7" cy="131.4" rx="1.35" ry="1.35" fill="#151515"/>
<ellipse cx="233" cy="133.2" rx="1.35" ry="1.35" fill="#151515"/>
<ellipse cx="223.2" cy="136.8" rx="1.35" ry="1.35" fill="#151515"/>
<ellipse cx="222.3" cy="142.1" rx="1.35" ry="1.35" fill="#151515"/>
<ellipse cx="232.1" cy="136.8" rx="1.35" ry="1.35" fill="#151515"/>
<ellipse cx="233" cy="143" rx="1.35" ry="1.35" fill="#151515"/>
<ellipse cx="242.9" cy="127.9" rx="1.35" ry="1.35" fill="#151515"/>
<ellipse cx="247.3" cy="135" rx="1.35" ry="1.35" fill="#151515"/>
<ellipse cx="251.8" cy="136.8" rx="1.35" ry="1.35" fill="#151515"/>
<ellipse cx="253.6" cy="138.6" rx="1.35" ry="1.35" fill="#151515"/>
<ellipse cx="255.4" cy="133.2" rx="1.35" ry="1.35" fill="#151515"/>
<ellipse cx="258.9" cy="131.4" rx="1.35" ry="1.35" fill="#151515"/>
<ellipse cx="262.5" cy="130.5" rx="1.35" ry="1.35" fill="#151515"/>
<ellipse cx="253.6" cy="143" rx="1.35" ry="1.35" fill="#151515"/>
<ellipse cx="258.9" cy="141.3" rx="1.35" ry="1.35" fill="#151515"/>
<ellipse cx="266" cy="124.3" rx="1.35" ry="1.35" fill="#151515"/>
<ellipse cx="267" cy="120.7" rx="1.35" ry="1.35" fill="#151515"/>
<ellipse cx="274.1" cy="127" rx="1.35" ry="1.35" fill="#151515"/>
<ellipse cx="278.6" cy="118" rx="1.35" ry="1.35" fill="#151515"/>
<ellipse cx="267.9" cy="142.1" rx="1.35" ry="1.35" fill="#151515"/>
<ellipse cx="271.4" cy="144.8" rx="1.35" ry="1.35" fill="#151515"/>
<ellipse cx="275" cy="145.7" rx="1.35" ry="1.35" fill="#151515"/>
<ellipse cx="276.8" cy="148.4" rx="1.35" ry="1.35" fill="#151515"/>
<ellipse cx="281.3" cy="132.3" rx="1.35" ry="1.35" fill="#151515"/>
<ellipse cx="282.1" cy="136.8" rx="1.35" ry="1.35" fill="#151515"/>
<ellipse cx="283.9" cy="138.6" rx="1.35" ry="1.35" fill="#151515"/>
<ellipse cx="285.7" cy="123.4" rx="1.35" ry="1.35" fill="#151515"/>
<ellipse cx="287.5" cy="127.9" rx="1.35" ry="1.35" fill="#151515"/>
<ellipse cx="238.4" cy="151" rx="1.35" ry="1.35" fill="#151515"/>
<ellipse cx="242.9" cy="148.4" rx="1.35" ry="1.35" fill="#151515"/>
<ellipse cx="246.4" cy="149.3" rx="1.35" ry="1.35" fill="#151515"/>
<ellipse cx="216" cy="144" rx="1.35" ry="1.35" fill="#151515"/>
<ellipse cx="213.4" cy="148.4" rx="1.35" ry="1.35" fill="#151515"/>
<ellipse cx="221.4" cy="152.9" rx="1.35" ry="1.35" fill="#151515"/>
<ellipse cx="208" cy="133.2" rx="1.35" ry="1.35" fill="#151515"/>
<ellipse cx="205.4" cy="133.2" rx="1.35" ry="1.35" fill="#151515"/>
<ellipse cx="227.3" cy="417.3" rx="1.65" ry="1.65" fill="#121212"/>
<ellipse cx="227.6" cy="416.9" rx="1.45" ry="1.45" fill="#121212"/>
<ellipse cx="222.3" cy="416.9" rx="1.48" ry="1.48" fill="#121212"/>
<ellipse cx="233.7" cy="413.7" rx="1.28" ry="1.28" fill="#121212"/>
<ellipse cx="220.5" cy="419.2" rx="1.52" ry="1.52" fill="#121212"/>
<ellipse cx="219.6" cy="420.6" rx="1.68" ry="1.68" fill="#121212"/>
<ellipse cx="231.1" cy="417.7" rx="1.19" ry="1.19" fill="#121212"/>
<ellipse cx="219.1" cy="417.1" rx="1.14" ry="1.14" fill="#121212"/>
<ellipse cx="222.4" cy="414.9" rx="1.12" ry="1.12" fill="#121212"/>
<ellipse cx="227.5" cy="416.4" rx="1.61" ry="1.61" fill="#121212"/>
<ellipse cx="228.6" cy="417.9" rx="1.4" ry="1.4" fill="#121212"/>
<ellipse cx="231.3" cy="416.5" rx="1.27" ry="1.27" fill="#121212"/>
<ellipse cx="237.6" cy="420.7" rx="1.6" ry="1.6" fill="#121212"/>
<ellipse cx="232.1" cy="415.4" rx="1.24" ry="1.24" fill="#121212"/>
<ellipse cx="254.6" cy="419.9" rx="1.56" ry="1.56" fill="#121212"/>
<ellipse cx="256.1" cy="431.5" rx="1.33" ry="1.33" fill="#121212"/>
<ellipse cx="263.4" cy="431.5" rx="1.1" ry="1.1" fill="#121212"/>
<ellipse cx="253.6" cy="432.5" rx="1.38" ry="1.38" fill="#121212"/>
<ellipse cx="263.7" cy="424.8" rx="1.14" ry="1.14" fill="#121212"/>
<ellipse cx="259.1" cy="430.5" rx="1.26" ry="1.26" fill="#121212"/>
<ellipse cx="252.0" cy="423.8" rx="1.68" ry="1.68" fill="#121212"/>
<ellipse cx="260.8" cy="420.6" rx="1.25" ry="1.25" fill="#121212"/>
<ellipse cx="252.1" cy="419.7" rx="1.58" ry="1.58" fill="#121212"/>
<ellipse cx="253.1" cy="427.2" rx="1.37" ry="1.37" fill="#121212"/>
<ellipse cx="253.3" cy="429.8" rx="1.18" ry="1.18" fill="#121212"/>
<ellipse cx="259.3" cy="420.5" rx="1.35" ry="1.35" fill="#121212"/>
<ellipse cx="253.6" cy="422.8" rx="1.68" ry="1.68" fill="#121212"/>
<ellipse cx="261.4" cy="423.4" rx="1.63" ry="1.63" fill="#121212"/>
<ellipse cx="253.6" cy="424.7" rx="1.61" ry="1.61" fill="#121212"/>
<ellipse cx="259.3" cy="420.3" rx="1.69" ry="1.69" fill="#121212"/>
<ellipse cx="253.6" cy="422.7" rx="1.56" ry="1.56" fill="#121212"/>
<ellipse cx="255.1" cy="423.2" rx="1.14" ry="1.14" fill="#121212"/>
<ellipse cx="252.0" cy="427.5" rx="1.25" ry="1.25" fill="#121212"/>
<ellipse cx="258.7" cy="424.4" rx="1.37" ry="1.37" fill="#121212"/>
<ellipse cx="263.5" cy="426.1" rx="1.44" ry="1.44" fill="#121212"/>
<ellipse cx="262.2" cy="421.5" rx="1.19" ry="1.19" fill="#121212"/>
<ellipse cx="240.2" cy="428.3" rx="1.25" ry="1.25" fill="#121212"/>
<ellipse cx="233.7" cy="427.6" rx="1.66" ry="1.66" fill="#121212"/>
<ellipse cx="233.8" cy="429.5" rx="1.63" ry="1.63" fill="#121212"/>
<ellipse cx="237.4" cy="424.6" rx="1.16" ry="1.16" fill="#121212"/>
<ellipse cx="232.3" cy="429.7" rx="1.24" ry="1.24" fill="#121212"/>
<ellipse cx="238.3" cy="423.1" rx="1.59" ry="1.59" fill="#121212"/>
<ellipse cx="237.4" cy="423.4" rx="1.21" ry="1.21" fill="#121212"/>
<ellipse cx="238.5" cy="421.3" rx="1.24" ry="1.24" fill="#121212"/>
<ellipse cx="237.0" cy="428.6" rx="1.47" ry="1.47" fill="#121212"/>
<ellipse cx="234.5" cy="429.2" rx="1.22" ry="1.22" fill="#121212"/>
<ellipse cx="220.8" cy="426.4" rx="1.37" ry="1.37" fill="#121212"/>
<ellipse cx="221.0" cy="425.7" rx="1.32" ry="1.32" fill="#121212"/>
<ellipse cx="223.9" cy="425.4" rx="1.32" ry="1.32" fill="#121212"/>
<ellipse cx="225.7" cy="431.9" rx="1.49" ry="1.49" fill="#121212"/>
<ellipse cx="224.6" cy="428.8" rx="1.18" ry="1.18" fill="#121212"/>
<ellipse cx="220.9" cy="424.5" rx="1.65" ry="1.65" fill="#121212"/>
<ellipse cx="276.7" cy="420.4" rx="1.11" ry="1.11" fill="#121212"/>
<ellipse cx="276.2" cy="415.8" rx="1.54" ry="1.54" fill="#121212"/>
<ellipse cx="273.8" cy="420.7" rx="1.15" ry="1.15" fill="#121212"/>
<ellipse cx="275.6" cy="418.2" rx="1.64" ry="1.64" fill="#121212"/>
<ellipse cx="277.0" cy="417.9" rx="1.58" ry="1.58" fill="#121212"/>
<ellipse cx="278.4" cy="414.6" rx="1.51" ry="1.51" fill="#121212"/>
<ellipse cx="278.2" cy="419.5" rx="1.35" ry="1.35" fill="#121212"/>
<ellipse cx="281.1" cy="439.1" rx="1.44" ry="1.44" fill="#121212"/>
<ellipse cx="279.8" cy="430.9" rx="1.45" ry="1.45" fill="#121212"/>
<ellipse cx="279.7" cy="425.8" rx="1.48" ry="1.48" fill="#121212"/>
<ellipse cx="282.6" cy="439.4" rx="1.54" ry="1.54" fill="#121212"/>
<ellipse cx="278.0" cy="436.9" rx="1.45" ry="1.45" fill="#121212"/>
<ellipse cx="278.4" cy="438.7" rx="1.15" ry="1.15" fill="#121212"/>
<ellipse cx="280.8" cy="424.9" rx="1.46" ry="1.46" fill="#121212"/>
<ellipse cx="278.7" cy="428.3" rx="1.52" ry="1.52" fill="#121212"/>
<ellipse cx="278.8" cy="434.8" rx="1.65" ry="1.65" fill="#121212"/>
<ellipse cx="213.2" cy="433.9" rx="1.28" ry="1.28" fill="#121212"/>
<ellipse cx="216.4" cy="435.3" rx="1.2" ry="1.2" fill="#121212"/>
<ellipse cx="218.1" cy="438.8" rx="1.37" ry="1.37" fill="#121212"/>
<ellipse cx="218.0" cy="436.3" rx="1.5" ry="1.5" fill="#121212"/>
<ellipse cx="212.8" cy="437.1" rx="1.58" ry="1.58" fill="#121212"/>
<ellipse cx="250.8" cy="444.8" rx="1.33" ry="1.33" fill="#121212"/>
<ellipse cx="246.2" cy="439.2" rx="1.18" ry="1.18" fill="#121212"/>
<ellipse cx="245.0" cy="444.4" rx="1.61" ry="1.61" fill="#121212"/>
<ellipse cx="248.0" cy="445.5" rx="1.27" ry="1.27" fill="#121212"/>
<ellipse cx="240.4" cy="440.5" rx="1.27" ry="1.27" fill="#121212"/>
<ellipse cx="241.0" cy="440.1" rx="1.48" ry="1.48" fill="#121212"/>
<ellipse cx="244.9" cy="439.2" rx="1.6" ry="1.6" fill="#121212"/>
<ellipse cx="251.7" cy="440.5" rx="1.14" ry="1.14" fill="#121212"/>
<ellipse cx="262.3" cy="434.7" rx="1.12" ry="1.12" fill="#121212"/>
<ellipse cx="269.1" cy="431.7" rx="1.29" ry="1.29" fill="#121212"/>
<ellipse cx="269.9" cy="426.2" rx="1.18" ry="1.18" fill="#121212"/>
<ellipse cx="266.5" cy="426.2" rx="1.6" ry="1.6" fill="#121212"/>
<ellipse cx="264.4" cy="427.4" rx="1.13" ry="1.13" fill="#121212"/>
<ellipse cx="268.3" cy="430.5" rx="1.48" ry="1.48" fill="#121212"/>
<ellipse cx="289.2" cy="436.9" rx="1.68" ry="1.68" fill="#121212"/>
<ellipse cx="289.5" cy="427.2" rx="1.39" ry="1.39" fill="#121212"/>
<ellipse cx="285.4" cy="424.2" rx="1.38" ry="1.38" fill="#121212"/>
<ellipse cx="289.7" cy="426.9" rx="1.26" ry="1.26" fill="#121212"/>
<ellipse cx="286.8" cy="435.2" rx="1.41" ry="1.41" fill="#121212"/>
<path d="M341.4,735.6v-2.2M341.4,614.4v2.2M359.7,735.6v-2.2M359.7,614.4v2.2M377.9,735.6v-2.2M377.9,614.4v2.2M396.2,735.6v-2.2M396.2,614.4v2.2M414.4,735.6v-2.2M414.4,614.4v2.2M432.7,735.6v-2.2M432.7,614.4v2.2M450.9,735.6v-2.2M450.9,614.4v2.2M469.2,735.6v-2.2M469.2,614.4v2.2M487.4,735.6v-2.2M487.4,614.4v2.2M323.2,723.5h2.2M505.7,723.5h-2.2M323.2,711.4h2.2M505.7,711.4h-2.2M323.2,699.2h2.2M505.7,699.2h-2.2M323.2,687.1h2.2M505.7,687.1h-2.2M323.2,675.0h2.2M505.7,675.0h-2.2M323.2,662.9h2.2M505.7,662.9h-2.2M323.2,650.8h2.2M505.7,650.8h-2.2M323.2,638.6h2.2M505.7,638.6h-2.2M323.2,626.5h2.2M505.7,626.5h-2.2" stroke="#333" stroke-width="1.1" fill="none"/>
<path d="M340.5,927.1v-2.2M340.5,795.8v2.2M358.9,927.1v-2.2M358.9,795.8v2.2M377.2,927.1v-2.2M377.2,795.8v2.2M395.5,927.1v-2.2M395.5,795.8v2.2M413.9,927.1v-2.2M413.9,795.8v2.2M432.2,927.1v-2.2M432.2,795.8v2.2M450.5,927.1v-2.2M450.5,795.8v2.2M468.8,927.1v-2.2M468.8,795.8v2.2M487.2,927.1v-2.2M487.2,795.8v2.2M322.2,914.0h2.2M505.5,914.0h-2.2M322.2,900.8h2.2M505.5,900.8h-2.2M322.2,887.7h2.2M505.5,887.7h-2.2M322.2,874.6h2.2M505.5,874.6h-2.2M322.2,861.5h2.2M505.5,861.5h-2.2M322.2,848.3h2.2M505.5,848.3h-2.2M322.2,835.2h2.2M505.5,835.2h-2.2M322.2,822.1h2.2M505.5,822.1h-2.2M322.2,808.9h2.2M505.5,808.9h-2.2" stroke="#333" stroke-width="1.1" fill="none"/>
</svg>
</body></html>
